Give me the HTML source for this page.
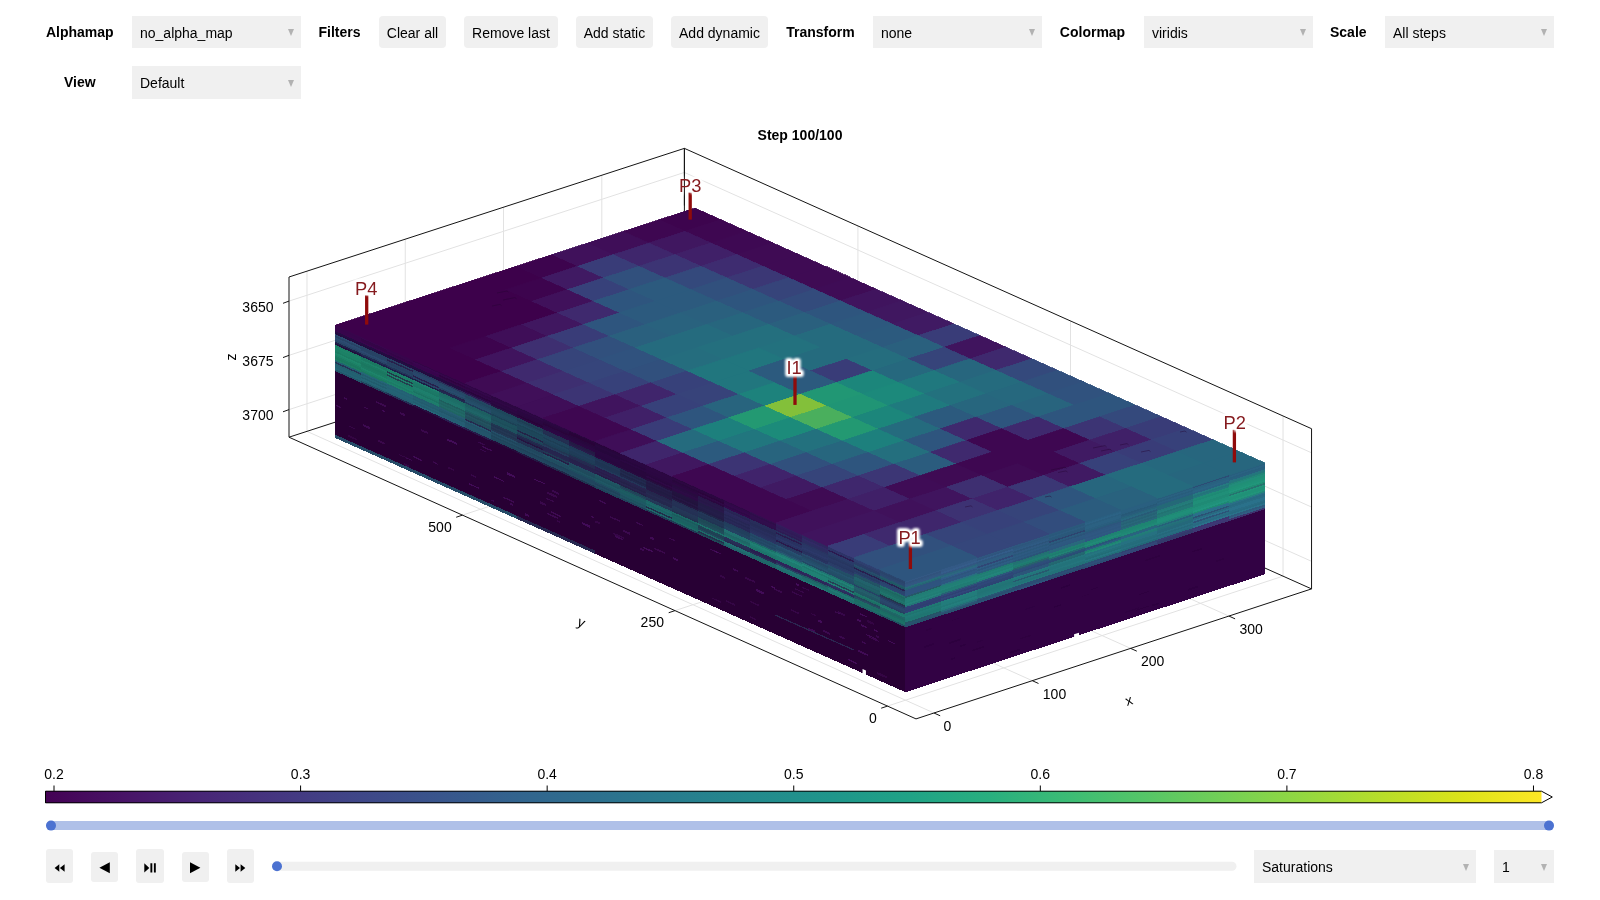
<!DOCTYPE html>
<html><head><meta charset="utf-8"><title>Reservoir plot</title>
<style>
html,body{margin:0;padding:0;background:#fff;}
body{width:1600px;height:900px;position:relative;overflow:hidden;font-family:"Liberation Sans",sans-serif;font-size:14px;color:#000;}
.lb{position:absolute;font-weight:bold;font-size:14px;line-height:16px;white-space:nowrap;transform:translateX(-50%);}
.dd{position:absolute;background:#f0f0f0;font-size:14px;box-sizing:border-box;padding-left:8px;white-space:nowrap;}
.dd i{position:absolute;right:6.8px;top:50%;margin-top:-2.6px;width:0;height:0;border-left:3.6px solid transparent;border-right:3.6px solid transparent;border-top:7.6px solid #b2b2b2;}
.bt{position:absolute;background:#f0f0f0;border-radius:4px;font-size:14px;text-align:center;white-space:nowrap;}
svg{position:absolute;left:0;top:0;will-change:transform;}
svg text{font-family:"Liberation Sans",sans-serif;}
.pb{position:absolute;background:#f0f0f0;border-radius:3px;}
#w{position:absolute;left:0;top:0;width:1600px;height:900px;will-change:transform;}
</style></head><body><div id="w">
<!-- row 1 -->
<div class="lb" style="left:79.8px;top:24px;">Alphamap</div>
<div class="dd" style="left:132px;top:16.3px;width:168.6px;height:31.5px;line-height:34px;">no_alpha_map<i></i></div>
<div class="lb" style="left:339.5px;top:24px;">Filters</div>
<div class="bt" style="left:379px;top:16.3px;width:67px;height:31.5px;line-height:34px;">Clear all</div>
<div class="bt" style="left:464px;top:16.3px;width:94px;height:31.5px;line-height:34px;">Remove last</div>
<div class="bt" style="left:576px;top:16.3px;width:77px;height:31.5px;line-height:34px;">Add static</div>
<div class="bt" style="left:671px;top:16.3px;width:97px;height:31.5px;line-height:34px;">Add dynamic</div>
<div class="lb" style="left:820.5px;top:24px;">Transform</div>
<div class="dd" style="left:873px;top:16.3px;width:168.6px;height:31.5px;line-height:34px;">none<i></i></div>
<div class="lb" style="left:1092.5px;top:24px;">Colormap</div>
<div class="dd" style="left:1144px;top:16.3px;width:168.6px;height:31.5px;line-height:34px;">viridis<i></i></div>
<div class="lb" style="left:1348.3px;top:24px;">Scale</div>
<div class="dd" style="left:1385px;top:16.3px;width:168.6px;height:31.5px;line-height:34px;">All steps<i></i></div>
<!-- row 2 -->
<div class="lb" style="left:79.8px;top:74.3px;">View</div>
<div class="dd" style="left:132px;top:66px;width:168.6px;height:32.5px;line-height:35.4px;">Default<i></i></div>
<!-- title -->
<div class="lb" style="left:800px;top:126.9px;">Step 100/100</div>

<svg width="1600" height="900" viewBox="0 0 1600 900">
<defs><linearGradient id="vg" x1="0" x2="1" y1="0" y2="0"><stop offset="0.0000" stop-color="#440154"/><stop offset="0.0526" stop-color="#481467"/><stop offset="0.1053" stop-color="#482677"/><stop offset="0.1579" stop-color="#453781"/><stop offset="0.2105" stop-color="#3f4788"/><stop offset="0.2632" stop-color="#39558c"/><stop offset="0.3158" stop-color="#32648e"/><stop offset="0.3684" stop-color="#2d708e"/><stop offset="0.4211" stop-color="#287d8e"/><stop offset="0.4737" stop-color="#238a8d"/><stop offset="0.5263" stop-color="#1f968b"/><stop offset="0.5789" stop-color="#20a386"/><stop offset="0.6316" stop-color="#29af7f"/><stop offset="0.6842" stop-color="#3cbc75"/><stop offset="0.7368" stop-color="#56c667"/><stop offset="0.7895" stop-color="#74d055"/><stop offset="0.8421" stop-color="#94d840"/><stop offset="0.8947" stop-color="#b8de29"/><stop offset="0.9474" stop-color="#dce319"/><stop offset="1.0000" stop-color="#fde725"/></linearGradient><filter id="gl" x="-30%" y="-30%" width="160%" height="160%"><feGaussianBlur stdDeviation="1.1"/></filter></defs>
<rect x="45" y="791" width="1496.5" height="12" fill="url(#vg)"/>
<path d="M45.5 791.2 H1541.5 L1552.3 797 L1541.5 802.8 H45.5 Z" fill="none" stroke="#000" stroke-width="1"/>
<line x1="54.00" y1="785.5" x2="54.00" y2="791" stroke="#000" stroke-width="1"/>
<text x="54.00" y="779" text-anchor="middle" font-size="14" fill="#000">0.2</text>
<line x1="300.58" y1="785.5" x2="300.58" y2="791" stroke="#000" stroke-width="1"/>
<text x="300.58" y="779" text-anchor="middle" font-size="14" fill="#000">0.3</text>
<line x1="547.16" y1="785.5" x2="547.16" y2="791" stroke="#000" stroke-width="1"/>
<text x="547.16" y="779" text-anchor="middle" font-size="14" fill="#000">0.4</text>
<line x1="793.74" y1="785.5" x2="793.74" y2="791" stroke="#000" stroke-width="1"/>
<text x="793.74" y="779" text-anchor="middle" font-size="14" fill="#000">0.5</text>
<line x1="1040.32" y1="785.5" x2="1040.32" y2="791" stroke="#000" stroke-width="1"/>
<text x="1040.32" y="779" text-anchor="middle" font-size="14" fill="#000">0.6</text>
<line x1="1286.90" y1="785.5" x2="1286.90" y2="791" stroke="#000" stroke-width="1"/>
<text x="1286.90" y="779" text-anchor="middle" font-size="14" fill="#000">0.7</text>
<line x1="1533.48" y1="785.5" x2="1533.48" y2="791" stroke="#000" stroke-width="1"/>
<text x="1533.48" y="779" text-anchor="middle" font-size="14" fill="#000">0.8</text>
<line x1="933.98" y1="712.99" x2="306.98" y2="431.35" stroke="#e2e2e2" stroke-width="1"/>
<line x1="306.98" y1="431.35" x2="306.98" y2="271.17" stroke="#e2e2e2" stroke-width="1"/>
<line x1="1032.29" y1="680.68" x2="405.25" y2="399.38" stroke="#e2e2e2" stroke-width="1"/>
<line x1="405.25" y1="399.38" x2="405.25" y2="239.19" stroke="#e2e2e2" stroke-width="1"/>
<line x1="1130.61" y1="648.37" x2="503.52" y2="367.40" stroke="#e2e2e2" stroke-width="1"/>
<line x1="503.52" y1="367.40" x2="503.52" y2="207.21" stroke="#e2e2e2" stroke-width="1"/>
<line x1="1228.92" y1="616.06" x2="601.80" y2="335.43" stroke="#e2e2e2" stroke-width="1"/>
<line x1="601.80" y1="335.43" x2="601.80" y2="175.24" stroke="#e2e2e2" stroke-width="1"/>
<line x1="887.50" y1="706.09" x2="1283.04" y2="576.16" stroke="#e2e2e2" stroke-width="1"/>
<line x1="1283.04" y1="576.16" x2="1283.04" y2="415.97" stroke="#e2e2e2" stroke-width="1"/>
<line x1="674.99" y1="610.62" x2="1070.48" y2="481.14" stroke="#e2e2e2" stroke-width="1"/>
<line x1="1070.48" y1="481.14" x2="1070.48" y2="320.95" stroke="#e2e2e2" stroke-width="1"/>
<line x1="462.48" y1="515.14" x2="857.92" y2="386.12" stroke="#e2e2e2" stroke-width="1"/>
<line x1="857.92" y1="386.12" x2="857.92" y2="225.93" stroke="#e2e2e2" stroke-width="1"/>
<line x1="289.00" y1="301.10" x2="684.40" y2="172.45" stroke="#e2e2e2" stroke-width="1"/>
<line x1="684.40" y1="172.45" x2="1311.55" y2="452.80" stroke="#e2e2e2" stroke-width="1"/>
<line x1="289.00" y1="355.35" x2="684.40" y2="226.70" stroke="#e2e2e2" stroke-width="1"/>
<line x1="684.40" y1="226.70" x2="1311.55" y2="507.05" stroke="#e2e2e2" stroke-width="1"/>
<line x1="289.00" y1="409.60" x2="684.40" y2="280.95" stroke="#e2e2e2" stroke-width="1"/>
<line x1="684.40" y1="280.95" x2="1311.55" y2="561.30" stroke="#e2e2e2" stroke-width="1"/>
<line x1="289.00" y1="277.01" x2="684.40" y2="148.36" stroke="#141414" stroke-width="1.0"/>
<line x1="684.40" y1="148.36" x2="1311.55" y2="428.71" stroke="#141414" stroke-width="1.0"/>
<line x1="289.00" y1="277.01" x2="289.00" y2="437.20" stroke="#141414" stroke-width="1.0"/>
<line x1="684.40" y1="148.36" x2="684.40" y2="308.55" stroke="#141414" stroke-width="1.0"/>
<line x1="1311.55" y1="428.71" x2="1311.55" y2="588.90" stroke="#141414" stroke-width="1.0"/>
<line x1="289.00" y1="437.20" x2="916.00" y2="718.90" stroke="#141414" stroke-width="1.0"/>
<line x1="916.00" y1="718.90" x2="1311.55" y2="588.90" stroke="#141414" stroke-width="1.0"/>
<line x1="289.00" y1="437.20" x2="684.40" y2="308.55" stroke="#141414" stroke-width="1.0"/>
<line x1="684.40" y1="308.55" x2="1311.55" y2="588.90" stroke="#141414" stroke-width="1.0"/>
<line x1="933.98" y1="712.99" x2="940.18" y2="715.79" stroke="#141414" stroke-width="1.0"/>
<line x1="1032.29" y1="680.68" x2="1038.49" y2="683.48" stroke="#141414" stroke-width="1.0"/>
<line x1="1130.61" y1="648.37" x2="1136.81" y2="651.17" stroke="#141414" stroke-width="1.0"/>
<line x1="1228.92" y1="616.06" x2="1235.12" y2="618.86" stroke="#141414" stroke-width="1.0"/>
<line x1="887.50" y1="706.09" x2="881.20" y2="708.19" stroke="#141414" stroke-width="1.0"/>
<line x1="674.99" y1="610.62" x2="668.69" y2="612.72" stroke="#141414" stroke-width="1.0"/>
<line x1="462.48" y1="515.14" x2="456.18" y2="517.24" stroke="#141414" stroke-width="1.0"/>
<line x1="289.00" y1="301.10" x2="283.00" y2="303.30" stroke="#141414" stroke-width="1.0"/>
<line x1="289.00" y1="355.35" x2="283.00" y2="357.55" stroke="#141414" stroke-width="1.0"/>
<line x1="289.00" y1="409.60" x2="283.00" y2="411.80" stroke="#141414" stroke-width="1.0"/>
<g shape-rendering="crispEdges"><polygon points="335.48,325.09 905.48,581.12 905.48,692.20 335.48,438.06" fill="#280034"/>
<polygon points="335.48,325.09 361.39,336.73 361.39,338.49 335.48,326.85" fill="#38054c"/>
<polygon points="335.48,326.62 361.39,338.26 361.39,340.02 335.48,328.38" fill="#37054b"/>
<polygon points="335.48,328.15 361.39,339.79 361.39,341.55 335.48,329.91" fill="#38054c"/>
<polygon points="335.48,329.69 361.39,341.32 361.39,343.08 335.48,331.44" fill="#38054c"/>
<polygon points="335.48,331.22 361.39,342.86 361.39,344.61 335.48,332.98" fill="#270b44"/>
<polygon points="335.48,332.75 361.39,344.39 361.39,346.15 335.48,334.51" fill="#250a40"/>
<polygon points="335.48,334.28 361.39,345.92 361.39,347.68 335.48,336.04" fill="#2b4a6f"/>
<polygon points="335.48,335.81 361.39,347.45 361.39,349.21 335.48,337.57" fill="#274365"/>
<polygon points="335.48,337.35 361.39,348.98 361.39,350.74 335.48,339.11" fill="#2c4b71"/>
<polygon points="335.48,338.88 361.39,350.52 361.39,352.28 335.48,340.64" fill="#2a486d"/>
<polygon points="335.48,340.41 361.39,352.05 361.39,353.81 335.48,342.17" fill="#274365"/>
<polygon points="335.48,341.94 361.39,353.58 361.39,355.34 335.48,343.70" fill="#1e2049"/>
<polygon points="335.48,343.47 361.39,355.11 361.39,356.87 335.48,345.23" fill="#220e3d"/>
<polygon points="335.48,345.01 361.39,356.64 361.39,358.40 335.48,346.77" fill="#1c7e64"/>
<polygon points="335.48,346.54 361.39,358.18 361.39,359.94 335.48,348.30" fill="#1d8468"/>
<polygon points="335.48,348.07 361.39,359.71 361.39,361.47 335.48,349.83" fill="#1c8166"/>
<polygon points="335.48,349.60 361.39,361.24 361.39,363.00 335.48,351.36" fill="#1c8166"/>
<polygon points="335.48,351.14 361.39,362.77 361.39,364.53 335.48,352.89" fill="#1b7c62"/>
<polygon points="335.48,352.67 361.39,364.31 361.39,366.06 335.48,354.43" fill="#1e876a"/>
<polygon points="335.48,354.20 361.39,365.84 361.39,367.60 335.48,355.96" fill="#1d8267"/>
<polygon points="335.48,355.73 361.39,367.37 361.39,369.13 335.48,357.49" fill="#1b7b61"/>
<polygon points="335.48,357.26 361.39,368.90 361.39,370.66 335.48,359.02" fill="#1a785f"/>
<polygon points="335.48,358.80 361.39,370.43 361.39,372.19 335.48,360.55" fill="#1c7d63"/>
<polygon points="335.48,360.33 361.39,371.97 361.39,373.72 335.48,362.09" fill="#226071"/>
<polygon points="335.48,361.86 361.39,373.50 361.39,375.26 335.48,363.62" fill="#263356"/>
<polygon points="335.48,363.39 361.39,375.03 361.39,376.79 335.48,365.15" fill="#225e6e"/>
<polygon points="335.48,364.92 361.39,376.56 361.39,378.32 335.48,366.68" fill="#236172"/>
<polygon points="335.48,366.46 361.39,378.09 361.39,379.85 335.48,368.22" fill="#226071"/>
<polygon points="335.48,367.99 361.39,379.63 361.39,381.39 335.48,369.75" fill="#236374"/>
<polygon points="335.48,369.52 361.39,381.16 361.39,382.92 335.48,371.28" fill="#22556a"/>
<polygon points="335.48,434.80 361.39,446.36 361.39,449.61 335.48,438.06" fill="#264c68"/>
<polygon points="361.39,336.73 387.30,348.36 387.30,350.12 361.39,338.49" fill="#39054e"/>
<polygon points="361.39,338.26 387.30,349.90 387.30,351.66 361.39,340.02" fill="#340547"/>
<polygon points="361.39,339.79 387.30,351.43 387.30,353.19 361.39,341.55" fill="#340547"/>
<polygon points="361.39,341.32 387.30,352.96 387.30,354.72 361.39,343.08" fill="#38054d"/>
<polygon points="361.39,342.86 387.30,354.49 387.30,356.25 361.39,344.61" fill="#250b42"/>
<polygon points="361.39,344.39 387.30,356.03 387.30,357.78 361.39,346.15" fill="#230a3f"/>
<polygon points="361.39,345.92 387.30,357.56 387.30,359.32 361.39,347.68" fill="#274264"/>
<polygon points="361.39,347.45 387.30,359.09 387.30,360.85 361.39,349.21" fill="#274264"/>
<polygon points="361.39,348.98 387.30,360.62 387.30,362.38 361.39,350.74" fill="#274365"/>
<polygon points="361.39,350.52 387.30,362.15 387.30,363.91 361.39,352.28" fill="#2b496f"/>
<polygon points="361.39,352.05 387.30,363.69 387.30,365.44 361.39,353.81" fill="#284466"/>
<polygon points="361.39,353.58 387.30,365.22 387.30,366.98 361.39,355.34" fill="#212c53"/>
<polygon points="361.39,355.11 387.30,366.75 387.30,368.51 361.39,356.87" fill="#1f1d4a"/>
<polygon points="361.39,356.64 387.30,368.28 387.30,370.04 361.39,358.40" fill="#1a7760"/>
<polygon points="361.39,358.18 387.30,369.81 387.30,371.57 361.39,359.94" fill="#1b7861"/>
<polygon points="361.39,359.71 387.30,371.35 387.30,373.11 361.39,361.47" fill="#1d8168"/>
<polygon points="361.39,361.24 387.30,372.88 387.30,374.64 361.39,363.00" fill="#1b7a62"/>
<polygon points="361.39,362.77 387.30,374.41 387.30,376.17 361.39,364.53" fill="#1a7760"/>
<polygon points="361.39,364.31 387.30,375.94 387.30,377.70 361.39,366.06" fill="#1b7961"/>
<polygon points="361.39,365.84 387.30,377.48 387.30,379.23 361.39,367.60" fill="#1b7b63"/>
<polygon points="361.39,367.37 387.30,379.01 387.30,380.77 361.39,369.13" fill="#1d846a"/>
<polygon points="361.39,368.90 387.30,380.54 387.30,382.30 361.39,370.66" fill="#1c7e65"/>
<polygon points="361.39,370.43 387.30,382.07 387.30,383.83 361.39,372.19" fill="#1b7861"/>
<polygon points="361.39,371.97 387.30,383.60 387.30,385.36 361.39,373.72" fill="#246577"/>
<polygon points="361.39,373.50 387.30,385.14 387.30,386.89 361.39,375.26" fill="#225d6e"/>
<polygon points="361.39,375.03 387.30,386.67 387.30,388.43 361.39,376.79" fill="#246374"/>
<polygon points="361.39,376.56 387.30,388.20 387.30,389.96 361.39,378.32" fill="#215c6d"/>
<polygon points="361.39,378.09 387.30,389.73 387.30,391.49 361.39,379.85" fill="#246476"/>
<polygon points="361.39,379.63 387.30,391.26 387.30,393.02 361.39,381.39" fill="#225f70"/>
<polygon points="361.39,381.16 387.30,392.80 387.30,394.56 361.39,382.92" fill="#223f5c"/>
<polygon points="361.39,446.36 387.30,457.91 387.30,461.16 361.39,449.61" fill="#264c68"/>
<polygon points="387.30,348.36 413.20,360.00 413.20,361.76 387.30,350.12" fill="#37054b"/>
<polygon points="387.30,349.90 413.20,361.53 413.20,363.29 387.30,351.66" fill="#38054c"/>
<polygon points="387.30,351.43 413.20,363.07 413.20,364.83 387.30,353.19" fill="#340547"/>
<polygon points="387.30,352.96 413.20,364.60 413.20,366.36 387.30,354.72" fill="#37054b"/>
<polygon points="387.30,354.49 413.20,366.13 413.20,367.89 387.30,356.25" fill="#230b3f"/>
<polygon points="387.30,356.03 413.20,367.66 413.20,369.42 387.30,357.78" fill="#250c43"/>
<polygon points="387.30,357.56 413.20,369.20 413.20,370.95 387.30,359.32" fill="#274264"/>
<polygon points="387.30,359.09 413.20,370.73 413.20,372.49 387.30,360.85" fill="#27214c"/>
<polygon points="387.30,360.62 413.20,372.26 413.20,374.02 387.30,362.38" fill="#274264"/>
<polygon points="387.30,362.15 413.20,373.79 413.20,375.55 387.30,363.91" fill="#264062"/>
<polygon points="387.30,363.69 413.20,375.32 413.20,377.08 387.30,365.44" fill="#274365"/>
<polygon points="387.30,365.22 413.20,376.86 413.20,378.61 387.30,366.98" fill="#23375a"/>
<polygon points="387.30,366.75 413.20,378.39 413.20,380.15 387.30,368.51" fill="#1f1d4a"/>
<polygon points="387.30,368.28 413.20,379.92 413.20,381.68 387.30,370.04" fill="#1c7d67"/>
<polygon points="387.30,369.81 413.20,381.45 413.20,383.21 387.30,371.57" fill="#1c7c66"/>
<polygon points="387.30,371.35 413.20,382.98 413.20,384.74 387.30,373.11" fill="#213a4a"/>
<polygon points="387.30,372.88 413.20,384.52 413.20,386.28 387.30,374.64" fill="#1d816a"/>
<polygon points="387.30,374.41 413.20,386.05 413.20,387.81 387.30,376.17" fill="#22414f"/>
<polygon points="387.30,375.94 413.20,387.58 413.20,389.34 387.30,377.70" fill="#1c7d67"/>
<polygon points="387.30,377.48 413.20,389.11 413.20,390.87 387.30,379.23" fill="#1c7e68"/>
<polygon points="387.30,379.01 413.20,390.64 413.20,392.40 387.30,380.77" fill="#1d826b"/>
<polygon points="387.30,380.54 413.20,392.18 413.20,393.94 387.30,382.30" fill="#1c7b66"/>
<polygon points="387.30,382.07 413.20,393.71 413.20,395.47 387.30,383.83" fill="#1d816a"/>
<polygon points="387.30,383.60 413.20,395.24 413.20,397.00 387.30,385.36" fill="#236173"/>
<polygon points="387.30,385.14 413.20,396.77 413.20,398.53 387.30,386.89" fill="#246376"/>
<polygon points="387.30,386.67 413.20,398.31 413.20,400.06 387.30,388.43" fill="#236173"/>
<polygon points="387.30,388.20 413.20,399.84 413.20,401.60 387.30,389.96" fill="#246375"/>
<polygon points="387.30,389.73 413.20,401.37 413.20,403.13 387.30,391.49" fill="#246274"/>
<polygon points="387.30,391.26 413.20,402.90 413.20,404.66 387.30,393.02" fill="#235f71"/>
<polygon points="387.30,392.80 413.20,404.43 413.20,406.19 387.30,394.56" fill="#242d54"/>
<polygon points="387.30,457.91 413.20,469.46 413.20,472.72 387.30,461.16" fill="#264c68"/>
<polygon points="413.20,360.00 439.11,371.64 439.11,373.40 413.20,361.76" fill="#330546"/>
<polygon points="413.20,361.53 439.11,373.17 439.11,374.93 413.20,363.29" fill="#39054f"/>
<polygon points="413.20,363.07 439.11,374.70 439.11,376.46 413.20,364.83" fill="#37054c"/>
<polygon points="413.20,364.60 439.11,376.24 439.11,378.00 413.20,366.36" fill="#37054c"/>
<polygon points="413.20,366.13 439.11,377.77 439.11,379.53 413.20,367.89" fill="#240c42"/>
<polygon points="413.20,367.66 439.11,379.30 439.11,381.06 413.20,369.42" fill="#230b3f"/>
<polygon points="413.20,369.20 439.11,380.83 439.11,382.59 413.20,370.95" fill="#263e61"/>
<polygon points="413.20,370.73 439.11,382.37 439.11,384.12 413.20,372.49" fill="#284568"/>
<polygon points="413.20,372.26 439.11,383.90 439.11,385.66 413.20,374.02" fill="#29476b"/>
<polygon points="413.20,373.79 439.11,385.43 439.11,387.19 413.20,375.55" fill="#28466a"/>
<polygon points="413.20,375.32 439.11,386.96 439.11,388.72 413.20,377.08" fill="#27214d"/>
<polygon points="413.20,376.86 439.11,388.49 439.11,390.25 413.20,378.61" fill="#274366"/>
<polygon points="413.20,378.39 439.11,390.03 439.11,391.78 413.20,380.15" fill="#1d1e47"/>
<polygon points="413.20,379.92 439.11,391.56 439.11,393.32 413.20,381.68" fill="#1e806d"/>
<polygon points="413.20,381.45 439.11,393.09 439.11,394.85 413.20,383.21" fill="#1c7968"/>
<polygon points="413.20,382.98 439.11,394.62 439.11,396.38 413.20,384.74" fill="#1c7866"/>
<polygon points="413.20,384.52 439.11,396.15 439.11,397.91 413.20,386.28" fill="#1b7665"/>
<polygon points="413.20,386.05 439.11,397.69 439.11,399.45 413.20,387.81" fill="#1d7f6c"/>
<polygon points="413.20,387.58 439.11,399.22 439.11,400.98 413.20,389.34" fill="#1e7e6c"/>
<polygon points="413.20,389.11 439.11,400.75 439.11,402.51 413.20,390.87" fill="#1d7a68"/>
<polygon points="413.20,390.64 439.11,402.28 439.11,404.04 413.20,392.40" fill="#1b7363"/>
<polygon points="413.20,392.18 439.11,403.81 439.11,405.57 413.20,393.94" fill="#1e7d6c"/>
<polygon points="413.20,393.71 439.11,405.35 439.11,407.11 413.20,395.47" fill="#1d7c6a"/>
<polygon points="413.20,395.24 439.11,406.88 439.11,408.64 413.20,397.00" fill="#225d6f"/>
<polygon points="413.20,396.77 439.11,408.41 439.11,410.17 413.20,398.53" fill="#235f71"/>
<polygon points="413.20,398.31 439.11,409.94 439.11,411.70 413.20,400.06" fill="#225c6e"/>
<polygon points="413.20,399.84 439.11,411.48 439.11,413.23 413.20,401.60" fill="#246174"/>
<polygon points="413.20,401.37 439.11,413.01 439.11,414.77 413.20,403.13" fill="#225d6f"/>
<polygon points="413.20,402.90 439.11,414.54 439.11,416.30 413.20,404.66" fill="#256578"/>
<polygon points="413.20,404.43 439.11,416.07 439.11,417.83 413.20,406.19" fill="#260e3f"/>
<polygon points="413.20,469.46 439.11,481.01 439.11,484.27 413.20,472.72" fill="#264c68"/>
<polygon points="439.11,371.64 465.02,383.28 465.02,385.04 439.11,373.40" fill="#310545"/>
<polygon points="439.11,373.17 465.02,384.81 465.02,386.57 439.11,374.93" fill="#35064a"/>
<polygon points="439.11,374.70 465.02,386.34 465.02,388.10 439.11,376.46" fill="#2f0340"/>
<polygon points="439.11,376.24 465.02,387.87 465.02,389.63 439.11,378.00" fill="#320646"/>
<polygon points="439.11,377.77 465.02,389.41 465.02,391.17 439.11,379.53" fill="#250a40"/>
<polygon points="439.11,379.30 465.02,390.94 465.02,392.70 439.11,381.06" fill="#260a42"/>
<polygon points="439.11,380.83 465.02,392.47 465.02,394.23 439.11,382.59" fill="#282f59"/>
<polygon points="439.11,382.37 465.02,394.00 465.02,395.76 439.11,384.12" fill="#264867"/>
<polygon points="439.11,383.90 465.02,395.53 465.02,397.29 439.11,385.66" fill="#264969"/>
<polygon points="439.11,385.43 465.02,397.07 465.02,398.83 439.11,387.19" fill="#284c6d"/>
<polygon points="439.11,386.96 465.02,398.60 465.02,400.36 439.11,388.72" fill="#244664"/>
<polygon points="439.11,388.49 465.02,400.13 465.02,401.89 439.11,390.25" fill="#26234c"/>
<polygon points="439.11,390.03 465.02,401.66 465.02,403.42 439.11,391.78" fill="#1f2c51"/>
<polygon points="439.11,391.56 465.02,403.20 465.02,404.95 439.11,393.32" fill="#1c6b64"/>
<polygon points="439.11,393.09 465.02,404.73 465.02,406.49 439.11,394.85" fill="#1d6d66"/>
<polygon points="439.11,394.62 465.02,406.26 465.02,408.02 439.11,396.38" fill="#1d6f68"/>
<polygon points="439.11,396.15 465.02,407.79 465.02,409.55 439.11,397.91" fill="#1e736b"/>
<polygon points="439.11,397.69 465.02,409.32 465.02,411.08 439.11,399.45" fill="#1e736b"/>
<polygon points="439.11,399.22 465.02,410.86 465.02,412.62 439.11,400.98" fill="#1e5f5e"/>
<polygon points="439.11,400.75 465.02,412.39 465.02,414.15 439.11,402.51" fill="#206765"/>
<polygon points="439.11,402.28 465.02,413.92 465.02,415.68 439.11,404.04" fill="#1f6462"/>
<polygon points="439.11,403.81 465.02,415.45 465.02,417.21 439.11,405.57" fill="#216967"/>
<polygon points="439.11,405.35 465.02,416.98 465.02,418.74 439.11,407.11" fill="#1f6563"/>
<polygon points="439.11,406.88 465.02,418.52 465.02,420.28 439.11,408.64" fill="#255d73"/>
<polygon points="439.11,408.41 465.02,420.05 465.02,421.81 439.11,410.17" fill="#235a6e"/>
<polygon points="439.11,409.94 465.02,421.58 465.02,423.34 439.11,411.70" fill="#22576b"/>
<polygon points="439.11,411.48 465.02,423.11 465.02,424.87 439.11,413.23" fill="#255d73"/>
<polygon points="439.11,413.01 465.02,424.65 465.02,426.40 439.11,414.77" fill="#245c72"/>
<polygon points="439.11,414.54 465.02,426.18 465.02,427.94 439.11,416.30" fill="#255e74"/>
<polygon points="439.11,416.07 465.02,427.71 465.02,429.47 439.11,417.83" fill="#281c4f"/>
<polygon points="439.11,481.01 465.02,492.56 465.02,495.82 439.11,484.27" fill="#264c68"/>
<polygon points="465.02,383.28 490.93,394.92 490.93,396.67 465.02,385.04" fill="#300645"/>
<polygon points="465.02,384.81 490.93,396.45 490.93,398.21 465.02,386.57" fill="#33074a"/>
<polygon points="465.02,386.34 490.93,397.98 490.93,399.74 465.02,388.10" fill="#2f0643"/>
<polygon points="465.02,387.87 490.93,399.51 490.93,401.27 465.02,389.63" fill="#310647"/>
<polygon points="465.02,389.41 490.93,401.04 490.93,402.80 465.02,391.17" fill="#29053c"/>
<polygon points="465.02,390.94 490.93,402.58 490.93,404.34 465.02,392.70" fill="#2b0a46"/>
<polygon points="465.02,392.47 490.93,404.11 490.93,405.87 465.02,394.23" fill="#2d2256"/>
<polygon points="465.02,394.00 490.93,405.64 490.93,407.40 465.02,395.76" fill="#224862"/>
<polygon points="465.02,395.53 490.93,407.17 490.93,408.93 465.02,397.29" fill="#214660"/>
<polygon points="465.02,397.07 490.93,408.70 490.93,410.46 465.02,398.83" fill="#234a64"/>
<polygon points="465.02,398.60 490.93,410.24 490.93,412.00 465.02,400.36" fill="#244d68"/>
<polygon points="465.02,400.13 490.93,411.77 490.93,413.53 465.02,401.89" fill="#254e6a"/>
<polygon points="465.02,401.66 490.93,413.30 490.93,415.06 465.02,403.42" fill="#203c5b"/>
<polygon points="465.02,403.20 490.93,414.83 490.93,416.59 465.02,404.95" fill="#1d5e61"/>
<polygon points="465.02,404.73 490.93,416.37 490.93,418.12 465.02,406.49" fill="#1d5f62"/>
<polygon points="465.02,406.26 490.93,417.90 490.93,419.66 465.02,408.02" fill="#1e6366"/>
<polygon points="465.02,407.79 490.93,419.43 490.93,421.19 465.02,409.55" fill="#1f6568"/>
<polygon points="465.02,409.32 490.93,420.96 490.93,422.72 465.02,411.08" fill="#1d5f62"/>
<polygon points="465.02,410.86 490.93,422.49 490.93,424.25 465.02,412.62" fill="#22515f"/>
<polygon points="465.02,412.39 490.93,424.03 490.93,425.79 465.02,414.15" fill="#204b58"/>
<polygon points="465.02,413.92 490.93,425.56 490.93,427.32 465.02,415.68" fill="#235260"/>
<polygon points="465.02,415.45 490.93,427.09 490.93,428.85 465.02,417.21" fill="#214e5c"/>
<polygon points="465.02,416.98 490.93,428.62 490.93,430.38 465.02,418.74" fill="#214e5c"/>
<polygon points="465.02,418.52 490.93,430.15 490.93,431.91 465.02,420.28" fill="#252a4f"/>
<polygon points="465.02,420.05 490.93,431.69 490.93,433.45 465.02,421.81" fill="#24576f"/>
<polygon points="465.02,421.58 490.93,433.22 490.93,434.98 465.02,423.34" fill="#225168"/>
<polygon points="465.02,423.11 490.93,434.75 490.93,436.51 465.02,424.87" fill="#23536a"/>
<polygon points="465.02,424.65 490.93,436.28 490.93,438.04 465.02,426.40" fill="#23546b"/>
<polygon points="465.02,426.18 490.93,437.82 490.93,439.57 465.02,427.94" fill="#235369"/>
<polygon points="465.02,427.71 490.93,439.35 490.93,441.11 465.02,429.47" fill="#271849"/>
<polygon points="465.02,492.56 490.93,504.12 490.93,507.37 465.02,495.82" fill="#264c68"/>
<polygon points="490.93,394.92 516.84,406.55 516.84,408.31 490.93,396.67" fill="#2d0742"/>
<polygon points="490.93,396.45 516.84,408.09 516.84,409.84 490.93,398.21" fill="#2c0742"/>
<polygon points="490.93,397.98 516.84,409.62 516.84,411.38 490.93,399.74" fill="#2f0745"/>
<polygon points="490.93,399.51 516.84,411.15 516.84,412.91 490.93,401.27" fill="#2c0641"/>
<polygon points="490.93,401.04 516.84,412.68 516.84,414.44 490.93,402.80" fill="#2b0842"/>
<polygon points="490.93,402.58 516.84,414.21 516.84,415.97 490.93,404.34" fill="#28073e"/>
<polygon points="490.93,404.11 516.84,415.75 516.84,417.51 490.93,405.87" fill="#280f42"/>
<polygon points="490.93,405.64 516.84,417.28 516.84,419.04 490.93,407.40" fill="#1e465b"/>
<polygon points="490.93,407.17 516.84,418.81 516.84,420.57 490.93,408.93" fill="#1e475c"/>
<polygon points="490.93,408.70 516.84,420.34 516.84,422.10 490.93,410.46" fill="#1f4a5f"/>
<polygon points="490.93,410.24 516.84,421.87 516.84,423.63 490.93,412.00" fill="#204b60"/>
<polygon points="490.93,411.77 516.84,423.41 516.84,425.17 490.93,413.53" fill="#1f495e"/>
<polygon points="490.93,413.30 516.84,424.94 516.84,426.70 490.93,415.06" fill="#1c4156"/>
<polygon points="490.93,414.83 516.84,426.47 516.84,428.23 490.93,416.59" fill="#1d505d"/>
<polygon points="490.93,416.37 516.84,428.00 516.84,429.76 490.93,418.12" fill="#1d505d"/>
<polygon points="490.93,417.90 516.84,429.54 516.84,431.29 490.93,419.66" fill="#1c4d5a"/>
<polygon points="490.93,419.43 516.84,431.07 516.84,432.83 490.93,421.19" fill="#1e525f"/>
<polygon points="490.93,420.96 516.84,432.60 516.84,434.36 490.93,422.72" fill="#1d515e"/>
<polygon points="490.93,422.49 516.84,434.13 516.84,435.89 490.93,424.25" fill="#223652"/>
<polygon points="490.93,424.03 516.84,435.66 516.84,437.42 490.93,425.79" fill="#20334f"/>
<polygon points="490.93,425.56 516.84,437.20 516.84,438.96 490.93,427.32" fill="#233754"/>
<polygon points="490.93,427.09 516.84,438.73 516.84,440.49 490.93,428.85" fill="#21344f"/>
<polygon points="490.93,428.62 516.84,440.26 516.84,442.02 490.93,430.38" fill="#233855"/>
<polygon points="490.93,430.15 516.84,441.79 516.84,443.55 490.93,431.91" fill="#234d66"/>
<polygon points="490.93,431.69 516.84,443.32 516.84,445.08 490.93,433.45" fill="#1f455c"/>
<polygon points="490.93,433.22 516.84,444.86 516.84,446.62 490.93,434.98" fill="#224b63"/>
<polygon points="490.93,434.75 516.84,446.39 516.84,448.15 490.93,436.51" fill="#1f455b"/>
<polygon points="490.93,436.28 516.84,447.92 516.84,449.68 490.93,438.04" fill="#20485f"/>
<polygon points="490.93,437.82 516.84,449.45 516.84,451.21 490.93,439.57" fill="#1f455c"/>
<polygon points="490.93,439.35 516.84,450.99 516.84,452.74 490.93,441.11" fill="#26093a"/>
<polygon points="490.93,504.12 516.84,515.67 516.84,518.92 490.93,507.37" fill="#264c68"/>
<polygon points="516.84,406.55 542.75,418.19 542.75,419.95 516.84,408.31" fill="#2b0741"/>
<polygon points="516.84,408.09 542.75,419.72 542.75,421.48 516.84,409.84" fill="#2d0744"/>
<polygon points="516.84,409.62 542.75,421.26 542.75,423.01 516.84,411.38" fill="#2a0740"/>
<polygon points="516.84,411.15 542.75,422.79 542.75,424.55 516.84,412.91" fill="#2a0740"/>
<polygon points="516.84,412.68 542.75,424.32 542.75,426.08 516.84,414.44" fill="#29073e"/>
<polygon points="516.84,414.21 542.75,425.85 542.75,427.61 516.84,415.97" fill="#280338"/>
<polygon points="516.84,415.75 542.75,427.38 542.75,429.14 516.84,417.51" fill="#2b0740"/>
<polygon points="516.84,417.28 542.75,428.92 542.75,430.68 516.84,419.04" fill="#1f4158"/>
<polygon points="516.84,418.81 542.75,430.45 542.75,432.21 516.84,420.57" fill="#1d3e54"/>
<polygon points="516.84,420.34 542.75,431.98 542.75,433.74 516.84,422.10" fill="#20435b"/>
<polygon points="516.84,421.87 542.75,433.51 542.75,435.27 516.84,423.63" fill="#1f4a5f"/>
<polygon points="516.84,423.41 542.75,435.04 542.75,436.80 516.84,425.17" fill="#1c4356"/>
<polygon points="516.84,424.94 542.75,436.58 542.75,438.34 516.84,426.70" fill="#1d465a"/>
<polygon points="516.84,426.47 542.75,438.11 542.75,439.87 516.84,428.23" fill="#1d4559"/>
<polygon points="516.84,428.00 542.75,439.64 542.75,441.40 516.84,429.76" fill="#1d475b"/>
<polygon points="516.84,429.54 542.75,441.17 542.75,442.93 516.84,431.29" fill="#232448"/>
<polygon points="516.84,431.07 542.75,442.71 542.75,444.46 516.84,432.83" fill="#1f455b"/>
<polygon points="516.84,432.60 542.75,444.24 542.75,446.00 516.84,434.36" fill="#1d4156"/>
<polygon points="516.84,434.13 542.75,445.77 542.75,447.53 516.84,435.89" fill="#24294f"/>
<polygon points="516.84,435.66 542.75,447.30 542.75,449.06 516.84,437.42" fill="#21264a"/>
<polygon points="516.84,437.20 542.75,448.83 542.75,450.59 516.84,438.96" fill="#251440"/>
<polygon points="516.84,438.73 542.75,450.37 542.75,452.13 516.84,440.49" fill="#233153"/>
<polygon points="516.84,440.26 542.75,451.90 542.75,453.66 516.84,442.02" fill="#223051"/>
<polygon points="516.84,441.79 542.75,453.43 542.75,455.19 516.84,443.55" fill="#20475f"/>
<polygon points="516.84,443.32 542.75,454.96 542.75,456.72 516.84,445.08" fill="#20475e"/>
<polygon points="516.84,444.86 542.75,456.49 542.75,458.25 516.84,446.62" fill="#224a62"/>
<polygon points="516.84,446.39 542.75,458.03 542.75,459.79 516.84,448.15" fill="#1f425a"/>
<polygon points="516.84,447.92 542.75,459.56 542.75,461.32 516.84,449.68" fill="#21465f"/>
<polygon points="516.84,449.45 542.75,461.09 542.75,462.85 516.84,451.21" fill="#214760"/>
<polygon points="516.84,450.99 542.75,462.62 542.75,464.38 516.84,452.74" fill="#231843"/>
<polygon points="516.84,515.67 542.75,527.22 542.75,530.47 516.84,518.92" fill="#262850"/>
<polygon points="542.75,418.19 568.66,429.83 568.66,431.59 542.75,419.95" fill="#2c0743"/>
<polygon points="542.75,419.72 568.66,431.36 568.66,433.12 542.75,421.48" fill="#2a0740"/>
<polygon points="542.75,421.26 568.66,432.89 568.66,434.65 542.75,423.01" fill="#28073d"/>
<polygon points="542.75,422.79 568.66,434.43 568.66,436.18 542.75,424.55" fill="#29043a"/>
<polygon points="542.75,424.32 568.66,435.96 568.66,437.72 542.75,426.08" fill="#2a0740"/>
<polygon points="542.75,425.85 568.66,437.49 568.66,439.25 542.75,427.61" fill="#2b0742"/>
<polygon points="542.75,427.38 568.66,439.02 568.66,440.78 542.75,429.14" fill="#2d0744"/>
<polygon points="542.75,428.92 568.66,440.55 568.66,442.31 542.75,430.68" fill="#222e50"/>
<polygon points="542.75,430.45 568.66,442.09 568.66,443.85 542.75,432.21" fill="#232f52"/>
<polygon points="542.75,431.98 568.66,443.62 568.66,445.38 542.75,433.74" fill="#222e50"/>
<polygon points="542.75,433.51 568.66,445.15 568.66,446.91 542.75,435.27" fill="#1f435c"/>
<polygon points="542.75,435.04 568.66,446.68 568.66,448.44 542.75,436.80" fill="#1f445d"/>
<polygon points="542.75,436.58 568.66,448.21 568.66,449.97 542.75,438.34" fill="#1d3e55"/>
<polygon points="542.75,438.11 568.66,449.75 568.66,451.51 542.75,439.87" fill="#1f445d"/>
<polygon points="542.75,439.64 568.66,451.28 568.66,453.04 542.75,441.40" fill="#1e415a"/>
<polygon points="542.75,441.17 568.66,452.81 568.66,454.57 542.75,442.93" fill="#1d4057"/>
<polygon points="542.75,442.71 568.66,454.34 568.66,456.10 542.75,444.46" fill="#213652"/>
<polygon points="542.75,444.24 568.66,455.88 568.66,457.63 542.75,446.00" fill="#243b5b"/>
<polygon points="542.75,445.77 568.66,457.41 568.66,459.17 542.75,447.53" fill="#25254e"/>
<polygon points="542.75,447.30 568.66,458.94 568.66,460.70 542.75,449.06" fill="#26254e"/>
<polygon points="542.75,448.83 568.66,460.47 568.66,462.23 542.75,450.59" fill="#26264f"/>
<polygon points="542.75,450.37 568.66,462.00 568.66,463.76 542.75,452.13" fill="#203953"/>
<polygon points="542.75,451.90 568.66,463.54 568.66,465.29 542.75,453.66" fill="#251f47"/>
<polygon points="542.75,453.43 568.66,465.07 568.66,466.83 542.75,455.19" fill="#225166"/>
<polygon points="542.75,454.96 568.66,466.60 568.66,468.36 542.75,456.72" fill="#204c60"/>
<polygon points="542.75,456.49 568.66,468.13 568.66,469.89 542.75,458.25" fill="#204d61"/>
<polygon points="542.75,458.03 568.66,469.66 568.66,471.42 542.75,459.79" fill="#1f425a"/>
<polygon points="542.75,459.56 568.66,471.20 568.66,472.96 542.75,461.32" fill="#20455e"/>
<polygon points="542.75,461.09 568.66,472.73 568.66,474.49 542.75,462.85" fill="#214760"/>
<polygon points="542.75,462.62 568.66,474.26 568.66,476.02 542.75,464.38" fill="#212649"/>
<polygon points="542.75,527.22 568.66,538.77 568.66,542.03 542.75,530.47" fill="#262850"/>
<polygon points="568.66,429.83 594.57,441.47 594.57,443.23 568.66,431.59" fill="#28073d"/>
<polygon points="568.66,431.36 594.57,443.00 594.57,444.76 568.66,433.12" fill="#280339"/>
<polygon points="568.66,432.89 594.57,444.53 594.57,446.29 568.66,434.65" fill="#280338"/>
<polygon points="568.66,434.43 594.57,446.06 594.57,447.82 568.66,436.18" fill="#27073c"/>
<polygon points="568.66,435.96 594.57,447.60 594.57,449.35 568.66,437.72" fill="#28073e"/>
<polygon points="568.66,437.49 594.57,449.13 594.57,450.89 568.66,439.25" fill="#2a0741"/>
<polygon points="568.66,439.02 594.57,450.66 594.57,452.42 568.66,440.78" fill="#2b0742"/>
<polygon points="568.66,440.55 594.57,452.19 594.57,453.95 568.66,442.31" fill="#231943"/>
<polygon points="568.66,442.09 594.57,453.72 594.57,455.48 568.66,443.85" fill="#241a46"/>
<polygon points="568.66,443.62 594.57,455.26 594.57,457.02 568.66,445.38" fill="#271c4b"/>
<polygon points="568.66,445.15 594.57,456.79 594.57,458.55 568.66,446.91" fill="#1e3b57"/>
<polygon points="568.66,446.68 594.57,458.32 594.57,460.08 568.66,448.44" fill="#1f3c59"/>
<polygon points="568.66,448.21 594.57,459.85 594.57,461.61 568.66,449.97" fill="#203e5c"/>
<polygon points="568.66,449.75 594.57,461.38 594.57,463.14 568.66,451.51" fill="#1f3c58"/>
<polygon points="568.66,451.28 594.57,462.92 594.57,464.68 568.66,453.04" fill="#1f3c58"/>
<polygon points="568.66,452.81 594.57,464.45 594.57,466.21 568.66,454.57" fill="#1d3953"/>
<polygon points="568.66,454.34 594.57,465.98 594.57,467.74 568.66,456.10" fill="#252b50"/>
<polygon points="568.66,455.88 594.57,467.51 594.57,469.27 568.66,457.63" fill="#242a4f"/>
<polygon points="568.66,457.41 594.57,469.05 594.57,470.80 568.66,459.17" fill="#26214b"/>
<polygon points="568.66,458.94 594.57,470.58 594.57,472.34 568.66,460.70" fill="#26214c"/>
<polygon points="568.66,460.47 594.57,472.11 594.57,473.87 568.66,462.23" fill="#27224e"/>
<polygon points="568.66,462.00 594.57,473.64 594.57,475.40 568.66,463.76" fill="#214c61"/>
<polygon points="568.66,463.54 594.57,475.17 594.57,476.93 568.66,465.29" fill="#204a5e"/>
<polygon points="568.66,465.07 594.57,476.71 594.57,478.46 568.66,466.83" fill="#1e4c5c"/>
<polygon points="568.66,466.60 594.57,478.24 594.57,480.00 568.66,468.36" fill="#205263"/>
<polygon points="568.66,468.13 594.57,479.77 594.57,481.53 568.66,469.89" fill="#1e4e5f"/>
<polygon points="568.66,469.66 594.57,481.30 594.57,483.06 568.66,471.42" fill="#20465f"/>
<polygon points="568.66,471.20 594.57,482.83 594.57,484.59 568.66,472.96" fill="#20465e"/>
<polygon points="568.66,472.73 594.57,484.37 594.57,486.13 568.66,474.49" fill="#21475f"/>
<polygon points="568.66,474.26 594.57,485.90 594.57,487.66 568.66,476.02" fill="#1f3450"/>
<polygon points="568.66,538.77 594.57,550.32 594.57,553.58 568.66,542.03" fill="#262850"/>
<polygon points="594.57,441.47 620.48,453.10 620.48,454.86 594.57,443.23" fill="#29043b"/>
<polygon points="594.57,443.00 620.48,454.64 620.48,456.40 594.57,444.76" fill="#26073c"/>
<polygon points="594.57,444.53 620.48,456.17 620.48,457.93 594.57,446.29" fill="#28073e"/>
<polygon points="594.57,446.06 620.48,457.70 620.48,459.46 594.57,447.82" fill="#26073c"/>
<polygon points="594.57,447.60 620.48,459.23 620.48,460.99 594.57,449.35" fill="#26073c"/>
<polygon points="594.57,449.13 620.48,460.77 620.48,462.52 594.57,450.89" fill="#290740"/>
<polygon points="594.57,450.66 620.48,462.30 620.48,464.06 594.57,452.42" fill="#290740"/>
<polygon points="594.57,452.19 620.48,463.83 620.48,465.59 594.57,453.95" fill="#28073f"/>
<polygon points="594.57,453.72 620.48,465.36 620.48,467.12 594.57,455.48" fill="#27073e"/>
<polygon points="594.57,455.26 620.48,466.89 620.48,468.65 594.57,457.02" fill="#2a0841"/>
<polygon points="594.57,456.79 620.48,468.43 620.48,470.18 594.57,458.55" fill="#1d3352"/>
<polygon points="594.57,458.32 620.48,469.96 620.48,471.72 594.57,460.08" fill="#1f3657"/>
<polygon points="594.57,459.85 620.48,471.49 620.48,473.25 594.57,461.61" fill="#1e3452"/>
<polygon points="594.57,461.38 620.48,473.02 620.48,474.78 594.57,463.14" fill="#1e3453"/>
<polygon points="594.57,462.92 620.48,474.55 620.48,476.31 594.57,464.68" fill="#1e3554"/>
<polygon points="594.57,464.45 620.48,476.09 620.48,477.85 594.57,466.21" fill="#21395a"/>
<polygon points="594.57,465.98 620.48,477.62 620.48,479.38 594.57,467.74" fill="#281e4c"/>
<polygon points="594.57,467.51 620.48,479.15 620.48,480.91 594.57,469.27" fill="#2a1f4f"/>
<polygon points="594.57,469.05 620.48,480.68 620.48,482.44 594.57,470.80" fill="#281d4a"/>
<polygon points="594.57,470.58 620.48,482.22 620.48,483.97 594.57,472.34" fill="#2a1f4f"/>
<polygon points="594.57,472.11 620.48,483.75 620.48,485.51 594.57,473.87" fill="#261c47"/>
<polygon points="594.57,473.64 620.48,485.28 620.48,487.04 594.57,475.40" fill="#1f5563"/>
<polygon points="594.57,475.17 620.48,486.81 620.48,488.57 594.57,476.93" fill="#1e5360"/>
<polygon points="594.57,476.71 620.48,488.34 620.48,490.10 594.57,478.46" fill="#1d515e"/>
<polygon points="594.57,478.24 620.48,489.88 620.48,491.63 594.57,480.00" fill="#1f5765"/>
<polygon points="594.57,479.77 620.48,491.41 620.48,493.17 594.57,481.53" fill="#1e5461"/>
<polygon points="594.57,481.30 620.48,492.94 620.48,494.70 594.57,483.06" fill="#214860"/>
<polygon points="594.57,482.83 620.48,494.47 620.48,496.23 594.57,484.59" fill="#1f435a"/>
<polygon points="594.57,484.37 620.48,496.00 620.48,497.76 594.57,486.13" fill="#214860"/>
<polygon points="594.57,485.90 620.48,497.54 620.48,499.30 594.57,487.66" fill="#1e4359"/>
<polygon points="620.48,453.10 646.39,464.74 646.39,466.50 620.48,454.86" fill="#2a0741"/>
<polygon points="620.48,454.64 646.39,466.27 646.39,468.03 620.48,456.40" fill="#2a0741"/>
<polygon points="620.48,456.17 646.39,467.81 646.39,469.57 620.48,457.93" fill="#2a0740"/>
<polygon points="620.48,457.70 646.39,469.34 646.39,471.10 620.48,459.46" fill="#27073d"/>
<polygon points="620.48,459.23 646.39,470.87 646.39,472.63 620.48,460.99" fill="#2a0741"/>
<polygon points="620.48,460.77 646.39,472.40 646.39,474.16 620.48,462.52" fill="#27073c"/>
<polygon points="620.48,462.30 646.39,473.94 646.39,475.69 620.48,464.06" fill="#28073d"/>
<polygon points="620.48,463.83 646.39,475.47 646.39,477.23 620.48,465.59" fill="#28073d"/>
<polygon points="620.48,465.36 646.39,477.00 646.39,478.76 620.48,467.12" fill="#27073c"/>
<polygon points="620.48,466.89 646.39,478.53 646.39,480.29 620.48,468.65" fill="#270b3f"/>
<polygon points="620.48,468.43 646.39,480.06 646.39,481.82 620.48,470.18" fill="#21294e"/>
<polygon points="620.48,469.96 646.39,481.60 646.39,483.35 620.48,471.72" fill="#1f2648"/>
<polygon points="620.48,471.49 646.39,483.13 646.39,484.89 620.48,473.25" fill="#21294f"/>
<polygon points="620.48,473.02 646.39,484.66 646.39,486.42 620.48,474.78" fill="#1e2547"/>
<polygon points="620.48,474.55 646.39,486.19 646.39,487.95 620.48,476.31" fill="#20274c"/>
<polygon points="620.48,476.09 646.39,487.72 646.39,489.48 620.48,477.85" fill="#223457"/>
<polygon points="620.48,477.62 646.39,489.26 646.39,491.02 620.48,479.38" fill="#27244e"/>
<polygon points="620.48,479.15 646.39,490.79 646.39,492.55 620.48,480.91" fill="#26234c"/>
<polygon points="620.48,480.68 646.39,492.32 646.39,494.08 620.48,482.44" fill="#242148"/>
<polygon points="620.48,482.22 646.39,493.85 646.39,495.61 620.48,483.97" fill="#27244e"/>
<polygon points="620.48,483.75 646.39,495.38 646.39,497.14 620.48,485.51" fill="#242148"/>
<polygon points="620.48,485.28 646.39,496.92 646.39,498.68 620.48,487.04" fill="#1f4256"/>
<polygon points="620.48,486.81 646.39,498.45 646.39,500.21 620.48,488.57" fill="#21465c"/>
<polygon points="620.48,488.34 646.39,499.98 646.39,501.74 620.48,490.10" fill="#1c595f"/>
<polygon points="620.48,489.88 646.39,501.51 646.39,503.27 620.48,491.63" fill="#1d5c63"/>
<polygon points="620.48,491.41 646.39,503.05 646.39,504.80 620.48,493.17" fill="#1c5a61"/>
<polygon points="620.48,492.94 646.39,504.58 646.39,506.34 620.48,494.70" fill="#1f5765"/>
<polygon points="620.48,494.47 646.39,506.11 646.39,507.87 620.48,496.23" fill="#1d525f"/>
<polygon points="620.48,496.00 646.39,507.64 646.39,509.40 620.48,497.76" fill="#1e5462"/>
<polygon points="620.48,497.54 646.39,509.17 646.39,510.93 620.48,499.30" fill="#21415b"/>
<polygon points="646.39,464.74 672.30,476.38 672.30,478.14 646.39,466.50" fill="#2b0741"/>
<polygon points="646.39,466.27 672.30,477.91 672.30,479.67 646.39,468.03" fill="#2c0742"/>
<polygon points="646.39,467.81 672.30,479.44 672.30,481.20 646.39,469.57" fill="#2c0743"/>
<polygon points="646.39,469.34 672.30,480.98 672.30,482.74 646.39,471.10" fill="#2b0741"/>
<polygon points="646.39,470.87 672.30,482.51 672.30,484.27 646.39,472.63" fill="#2b0742"/>
<polygon points="646.39,472.40 672.30,484.04 672.30,485.80 646.39,474.16" fill="#2a073f"/>
<polygon points="646.39,473.94 672.30,485.57 672.30,487.33 646.39,475.69" fill="#28073d"/>
<polygon points="646.39,475.47 672.30,487.11 672.30,488.86 646.39,477.23" fill="#2d0844"/>
<polygon points="646.39,477.00 672.30,488.64 672.30,490.40 646.39,478.76" fill="#29073d"/>
<polygon points="646.39,478.53 672.30,490.17 672.30,491.93 646.39,480.29" fill="#250f3e"/>
<polygon points="646.39,480.06 672.30,491.70 672.30,493.46 646.39,481.82" fill="#241c48"/>
<polygon points="646.39,481.60 672.30,493.23 672.30,494.99 646.39,483.35" fill="#221a43"/>
<polygon points="646.39,483.13 672.30,494.77 672.30,496.52 646.39,484.89" fill="#231b45"/>
<polygon points="646.39,484.66 672.30,496.30 672.30,498.06 646.39,486.42" fill="#211a42"/>
<polygon points="646.39,486.19 672.30,497.83 672.30,499.59 646.39,487.95" fill="#221b44"/>
<polygon points="646.39,487.72 672.30,499.36 672.30,501.12 646.39,489.48" fill="#261945"/>
<polygon points="646.39,489.26 672.30,500.89 672.30,502.65 646.39,491.02" fill="#23274c"/>
<polygon points="646.39,490.79 672.30,502.43 672.30,504.19 646.39,492.55" fill="#24284d"/>
<polygon points="646.39,492.32 672.30,503.96 672.30,505.72 646.39,494.08" fill="#262a51"/>
<polygon points="646.39,493.85 672.30,505.49 672.30,507.25 646.39,495.61" fill="#24284d"/>
<polygon points="646.39,495.38 672.30,507.02 672.30,508.78 646.39,497.14" fill="#24284d"/>
<polygon points="646.39,496.92 672.30,508.55 672.30,510.31 646.39,498.68" fill="#243958"/>
<polygon points="646.39,498.45 672.30,510.09 672.30,511.85 646.39,500.21" fill="#233856"/>
<polygon points="646.39,499.98 672.30,511.62 672.30,513.38 646.39,501.74" fill="#1c6566"/>
<polygon points="646.39,501.51 672.30,513.15 672.30,514.91 646.39,503.27" fill="#1d6a6b"/>
<polygon points="646.39,503.05 672.30,514.68 672.30,516.44 646.39,504.80" fill="#1b6464"/>
<polygon points="646.39,504.58 672.30,516.22 672.30,517.97 646.39,506.34" fill="#1d676a"/>
<polygon points="646.39,506.11 672.30,517.75 672.30,519.51 646.39,507.87" fill="#212f4b"/>
<polygon points="646.39,507.64 672.30,519.28 672.30,521.04 646.39,509.40" fill="#1d676a"/>
<polygon points="646.39,509.17 672.30,520.81 672.30,522.57 646.39,510.93" fill="#1f3953"/>
<polygon points="672.30,476.38 698.21,488.02 698.21,489.78 672.30,478.14" fill="#2a073e"/>
<polygon points="672.30,477.91 698.21,489.55 698.21,491.31 672.30,479.67" fill="#2c0741"/>
<polygon points="672.30,479.44 698.21,491.08 698.21,492.84 672.30,481.20" fill="#28073c"/>
<polygon points="672.30,480.98 698.21,492.61 698.21,494.37 672.30,482.74" fill="#2a073f"/>
<polygon points="672.30,482.51 698.21,494.15 698.21,495.91 672.30,484.27" fill="#2c0742"/>
<polygon points="672.30,484.04 698.21,495.68 698.21,497.44 672.30,485.80" fill="#280b3f"/>
<polygon points="672.30,485.57 698.21,497.21 698.21,498.97 672.30,487.33" fill="#290b41"/>
<polygon points="672.30,487.11 698.21,498.74 698.21,500.50 672.30,488.86" fill="#2c0b45"/>
<polygon points="672.30,488.64 698.21,500.27 698.21,502.03 672.30,490.40" fill="#2b0b43"/>
<polygon points="672.30,490.17 698.21,501.81 698.21,503.57 672.30,491.93" fill="#23133f"/>
<polygon points="672.30,491.70 698.21,503.34 698.21,505.10 672.30,493.46" fill="#22133e"/>
<polygon points="672.30,493.23 698.21,504.87 698.21,506.63 672.30,494.99" fill="#21133c"/>
<polygon points="672.30,494.77 698.21,506.40 698.21,508.16 672.30,496.52" fill="#251543"/>
<polygon points="672.30,496.30 698.21,507.94 698.21,509.69 672.30,498.06" fill="#22133d"/>
<polygon points="672.30,497.83 698.21,509.47 698.21,511.23 672.30,499.59" fill="#241743"/>
<polygon points="672.30,499.36 698.21,511.00 698.21,512.76 672.30,501.12" fill="#232f51"/>
<polygon points="672.30,500.89 698.21,512.53 698.21,514.29 672.30,502.65" fill="#253156"/>
<polygon points="672.30,502.43 698.21,514.06 698.21,515.82 672.30,504.19" fill="#243155"/>
<polygon points="672.30,503.96 698.21,515.60 698.21,517.36 672.30,505.72" fill="#243054"/>
<polygon points="672.30,505.49 698.21,517.13 698.21,518.89 672.30,507.25" fill="#243757"/>
<polygon points="672.30,507.02 698.21,518.66 698.21,520.42 672.30,508.78" fill="#243656"/>
<polygon points="672.30,508.55 698.21,520.19 698.21,521.95 672.30,510.31" fill="#233553"/>
<polygon points="672.30,510.09 698.21,521.72 698.21,523.48 672.30,511.85" fill="#21324f"/>
<polygon points="672.30,511.62 698.21,523.26 698.21,525.02 672.30,513.38" fill="#1a6864"/>
<polygon points="672.30,513.15 698.21,524.79 698.21,526.55 672.30,514.91" fill="#1a5c5e"/>
<polygon points="672.30,514.68 698.21,526.32 698.21,528.08 672.30,516.44" fill="#1c6163"/>
<polygon points="672.30,516.22 698.21,527.85 698.21,529.61 672.30,517.97" fill="#1b6061"/>
<polygon points="672.30,517.75 698.21,529.39 698.21,531.14 672.30,519.51" fill="#196461"/>
<polygon points="672.30,519.28 698.21,530.92 698.21,532.68 672.30,521.04" fill="#1b6965"/>
<polygon points="672.30,520.81 698.21,532.45 698.21,534.21 672.30,522.57" fill="#203c55"/>
<polygon points="698.21,488.02 724.12,499.66 724.12,501.41 698.21,489.78" fill="#2b0741"/>
<polygon points="698.21,489.55 724.12,501.19 724.12,502.95 698.21,491.31" fill="#2b0740"/>
<polygon points="698.21,491.08 724.12,502.72 724.12,504.48 698.21,492.84" fill="#2a043b"/>
<polygon points="698.21,492.61 724.12,504.25 724.12,506.01 698.21,494.37" fill="#2f0845"/>
<polygon points="698.21,494.15 724.12,505.78 724.12,507.54 698.21,495.91" fill="#2a073f"/>
<polygon points="698.21,495.68 724.12,507.32 724.12,509.08 698.21,497.44" fill="#271748"/>
<polygon points="698.21,497.21 724.12,508.85 724.12,510.61 698.21,498.97" fill="#28184a"/>
<polygon points="698.21,498.74 724.12,510.38 724.12,512.14 698.21,500.50" fill="#271748"/>
<polygon points="698.21,500.27 724.12,511.91 724.12,513.67 698.21,502.03" fill="#28184b"/>
<polygon points="698.21,501.81 724.12,513.44 724.12,515.20 698.21,503.57" fill="#231c46"/>
<polygon points="698.21,503.34 724.12,514.98 724.12,516.74 698.21,505.10" fill="#231c47"/>
<polygon points="698.21,504.87 724.12,516.51 724.12,518.27 698.21,506.63" fill="#241d49"/>
<polygon points="698.21,506.40 724.12,518.04 724.12,519.80 698.21,508.16" fill="#231c47"/>
<polygon points="698.21,507.94 724.12,519.57 724.12,521.33 698.21,509.69" fill="#221b45"/>
<polygon points="698.21,509.47 724.12,521.11 724.12,522.86 698.21,511.23" fill="#202648"/>
<polygon points="698.21,511.00 724.12,522.64 724.12,524.40 698.21,512.76" fill="#223758"/>
<polygon points="698.21,512.53 724.12,524.17 724.12,525.93 698.21,514.29" fill="#213554"/>
<polygon points="698.21,514.06 724.12,525.70 724.12,527.46 698.21,515.82" fill="#223656"/>
<polygon points="698.21,515.60 724.12,527.23 724.12,528.99 698.21,517.36" fill="#203453"/>
<polygon points="698.21,517.13 724.12,528.77 724.12,530.53 698.21,518.89" fill="#1e4957"/>
<polygon points="698.21,518.66 724.12,530.30 724.12,532.06 698.21,520.42" fill="#1e4956"/>
<polygon points="698.21,520.19 724.12,531.83 724.12,533.59 698.21,521.95" fill="#1f4c5a"/>
<polygon points="698.21,521.72 724.12,533.36 724.12,535.12 698.21,523.48" fill="#204e5c"/>
<polygon points="698.21,523.26 724.12,534.89 724.12,536.65 698.21,525.02" fill="#1c716a"/>
<polygon points="698.21,524.79 724.12,536.43 724.12,538.19 698.21,526.55" fill="#1f4356"/>
<polygon points="698.21,526.32 724.12,537.96 724.12,539.72 698.21,528.08" fill="#1e4053"/>
<polygon points="698.21,527.85 724.12,539.49 724.12,541.25 698.21,529.61" fill="#21465a"/>
<polygon points="698.21,529.39 724.12,541.02 724.12,542.78 698.21,531.14" fill="#1d6968"/>
<polygon points="698.21,530.92 724.12,542.56 724.12,544.31 698.21,532.68" fill="#22334d"/>
<polygon points="698.21,532.45 724.12,544.09 724.12,545.85 698.21,534.21" fill="#1e4857"/>
<polygon points="724.12,499.66 750.02,511.29 750.02,513.05 724.12,501.41" fill="#2f0845"/>
<polygon points="724.12,501.19 750.02,512.83 750.02,514.58 724.12,502.95" fill="#310849"/>
<polygon points="724.12,502.72 750.02,514.36 750.02,516.12 724.12,504.48" fill="#33084b"/>
<polygon points="724.12,504.25 750.02,515.89 750.02,517.65 724.12,506.01" fill="#2f0846"/>
<polygon points="724.12,505.78 750.02,517.42 750.02,519.18 724.12,507.54" fill="#33084c"/>
<polygon points="724.12,507.32 750.02,518.95 750.02,520.71 724.12,509.08" fill="#282556"/>
<polygon points="724.12,508.85 750.02,520.49 750.02,522.25 724.12,510.61" fill="#272454"/>
<polygon points="724.12,510.38 750.02,522.02 750.02,523.78 724.12,512.14" fill="#2b285c"/>
<polygon points="724.12,511.91 750.02,523.55 750.02,525.31 724.12,513.67" fill="#2a275a"/>
<polygon points="724.12,513.44 750.02,525.08 750.02,526.84 724.12,515.20" fill="#262654"/>
<polygon points="724.12,514.98 750.02,526.61 750.02,528.37 724.12,516.74" fill="#282958"/>
<polygon points="724.12,516.51 750.02,528.15 750.02,529.91 724.12,518.27" fill="#252653"/>
<polygon points="724.12,518.04 750.02,529.68 750.02,531.44 724.12,519.80" fill="#282858"/>
<polygon points="724.12,519.57 750.02,531.21 750.02,532.97 724.12,521.33" fill="#272755"/>
<polygon points="724.12,521.11 750.02,532.74 750.02,534.50 724.12,522.86" fill="#223b5c"/>
<polygon points="724.12,522.64 750.02,534.28 750.02,536.03 724.12,524.40" fill="#213f5d"/>
<polygon points="724.12,524.17 750.02,535.81 750.02,537.57 724.12,525.93" fill="#213f5d"/>
<polygon points="724.12,525.70 750.02,537.34 750.02,539.10 724.12,527.46" fill="#234261"/>
<polygon points="724.12,527.23 750.02,538.87 750.02,540.63 724.12,528.99" fill="#234262"/>
<polygon points="724.12,528.77 750.02,540.40 750.02,542.16 724.12,530.53" fill="#217170"/>
<polygon points="724.12,530.30 750.02,541.94 750.02,543.70 724.12,532.06" fill="#21706f"/>
<polygon points="724.12,531.83 750.02,543.47 750.02,545.23 724.12,533.59" fill="#1e6766"/>
<polygon points="724.12,533.36 750.02,545.00 750.02,546.76 724.12,535.12" fill="#1f6968"/>
<polygon points="724.12,534.89 750.02,546.53 750.02,548.29 724.12,536.65" fill="#1d746c"/>
<polygon points="724.12,536.43 750.02,548.06 750.02,549.82 724.12,538.19" fill="#292f58"/>
<polygon points="724.12,537.96 750.02,549.60 750.02,551.36 724.12,539.72" fill="#282d56"/>
<polygon points="724.12,539.49 750.02,551.13 750.02,552.89 724.12,541.25" fill="#252b50"/>
<polygon points="724.12,541.02 750.02,552.66 750.02,554.42 724.12,542.78" fill="#217072"/>
<polygon points="724.12,542.56 750.02,554.19 750.02,555.95 724.12,544.31" fill="#206c6e"/>
<polygon points="724.12,544.09 750.02,555.73 750.02,557.48 724.12,545.85" fill="#21626a"/>
<polygon points="750.02,511.29 775.93,522.93 775.93,524.69 750.02,513.05" fill="#320e4e"/>
<polygon points="750.02,512.83 775.93,524.46 775.93,526.22 750.02,514.58" fill="#2e0d49"/>
<polygon points="750.02,514.36 775.93,526.00 775.93,527.75 750.02,516.12" fill="#310d4d"/>
<polygon points="750.02,515.89 775.93,527.53 775.93,529.29 750.02,517.65" fill="#300e4c"/>
<polygon points="750.02,517.42 775.93,529.06 775.93,530.82 750.02,519.18" fill="#2e0e4a"/>
<polygon points="750.02,518.95 775.93,530.59 775.93,532.35 750.02,520.71" fill="#272d5a"/>
<polygon points="750.02,520.49 775.93,532.12 775.93,533.88 750.02,522.25" fill="#272d5a"/>
<polygon points="750.02,522.02 775.93,533.66 775.93,535.42 750.02,523.78" fill="#252b57"/>
<polygon points="750.02,523.55 775.93,535.19 775.93,536.95 750.02,525.31" fill="#262c58"/>
<polygon points="750.02,525.08 775.93,536.72 775.93,538.48 750.02,526.84" fill="#282e5d"/>
<polygon points="750.02,526.61 775.93,538.25 775.93,540.01 750.02,528.37" fill="#272d5b"/>
<polygon points="750.02,528.15 775.93,539.78 775.93,541.54 750.02,529.91" fill="#292f5e"/>
<polygon points="750.02,529.68 775.93,541.32 775.93,543.08 750.02,531.44" fill="#283260"/>
<polygon points="750.02,531.21 775.93,542.85 775.93,544.61 750.02,532.97" fill="#293463"/>
<polygon points="750.02,532.74 775.93,544.38 775.93,546.14 750.02,534.50" fill="#234968"/>
<polygon points="750.02,534.28 775.93,545.91 775.93,547.67 750.02,536.03" fill="#224663"/>
<polygon points="750.02,535.81 775.93,547.45 775.93,549.20 750.02,537.57" fill="#244a69"/>
<polygon points="750.02,537.34 775.93,548.98 775.93,550.74 750.02,539.10" fill="#224764"/>
<polygon points="750.02,538.87 775.93,550.51 775.93,552.27 750.02,540.63" fill="#23506a"/>
<polygon points="750.02,540.40 775.93,552.04 775.93,553.80 750.02,542.16" fill="#1c7369"/>
<polygon points="750.02,541.94 775.93,553.57 775.93,555.33 750.02,543.70" fill="#1f7f74"/>
<polygon points="750.02,543.47 775.93,555.11 775.93,556.87 750.02,545.23" fill="#1e7b70"/>
<polygon points="750.02,545.00 775.93,556.64 775.93,558.40 750.02,546.76" fill="#1d766c"/>
<polygon points="750.02,546.53 775.93,558.17 775.93,559.93 750.02,548.29" fill="#1c7369"/>
<polygon points="750.02,548.06 775.93,559.70 775.93,561.46 750.02,549.82" fill="#2a1f50"/>
<polygon points="750.02,549.60 775.93,561.23 775.93,562.99 750.02,551.36" fill="#291f50"/>
<polygon points="750.02,551.13 775.93,562.77 775.93,564.53 750.02,552.89" fill="#292a55"/>
<polygon points="750.02,552.66 775.93,564.30 775.93,566.06 750.02,554.42" fill="#1e6668"/>
<polygon points="750.02,554.19 775.93,565.83 775.93,567.59 750.02,555.95" fill="#1f686a"/>
<polygon points="750.02,555.73 775.93,567.36 775.93,569.12 750.02,557.48" fill="#1e6466"/>
<polygon points="775.93,522.93 801.84,534.57 801.84,536.33 775.93,524.69" fill="#331c5c"/>
<polygon points="775.93,524.46 801.84,536.10 801.84,537.86 775.93,526.22" fill="#311b59"/>
<polygon points="775.93,526.00 801.84,537.63 801.84,539.39 775.93,527.75" fill="#301a57"/>
<polygon points="775.93,527.53 801.84,539.17 801.84,540.92 775.93,529.29" fill="#301e59"/>
<polygon points="775.93,529.06 801.84,540.70 801.84,542.46 775.93,530.82" fill="#2d1c54"/>
<polygon points="775.93,530.59 801.84,542.23 801.84,543.99 775.93,532.35" fill="#27315e"/>
<polygon points="775.93,532.12 801.84,543.76 801.84,545.52 775.93,533.88" fill="#2a1b4e"/>
<polygon points="775.93,533.66 801.84,545.29 801.84,547.05 775.93,535.42" fill="#283160"/>
<polygon points="775.93,535.19 801.84,546.83 801.84,548.59 775.93,536.95" fill="#283261"/>
<polygon points="775.93,536.72 801.84,548.36 801.84,550.12 775.93,538.48" fill="#2b3567"/>
<polygon points="775.93,538.25 801.84,549.89 801.84,551.65 775.93,540.01" fill="#293261"/>
<polygon points="775.93,539.78 801.84,551.42 801.84,553.18 775.93,541.54" fill="#291a4c"/>
<polygon points="775.93,541.32 801.84,552.95 801.84,554.71 775.93,543.08" fill="#253a60"/>
<polygon points="775.93,542.85 801.84,554.49 801.84,556.25 775.93,544.61" fill="#273c63"/>
<polygon points="775.93,544.38 801.84,556.02 801.84,557.78 775.93,546.14" fill="#265070"/>
<polygon points="775.93,545.91 801.84,557.55 801.84,559.31 775.93,547.67" fill="#244c6a"/>
<polygon points="775.93,547.45 801.84,559.08 801.84,560.84 775.93,549.20" fill="#234a67"/>
<polygon points="775.93,548.98 801.84,560.62 801.84,562.37 775.93,550.74" fill="#26506f"/>
<polygon points="775.93,550.51 801.84,562.15 801.84,563.91 775.93,552.27" fill="#236571"/>
<polygon points="775.93,552.04 801.84,563.68 801.84,565.44 775.93,553.80" fill="#1f7f73"/>
<polygon points="775.93,553.57 801.84,565.21 801.84,566.97 775.93,555.33" fill="#208579"/>
<polygon points="775.93,555.11 801.84,566.74 801.84,568.50 775.93,556.87" fill="#1e7a70"/>
<polygon points="775.93,556.64 801.84,568.28 801.84,570.03 775.93,558.40" fill="#1e7a6f"/>
<polygon points="775.93,558.17 801.84,569.81 801.84,571.57 775.93,559.93" fill="#1d786e"/>
<polygon points="775.93,559.70 801.84,571.34 801.84,573.10 775.93,561.46" fill="#2e245a"/>
<polygon points="775.93,561.23 801.84,572.87 801.84,574.63 775.93,562.99" fill="#2e255b"/>
<polygon points="775.93,562.77 801.84,574.40 801.84,576.16 775.93,564.53" fill="#274662"/>
<polygon points="775.93,564.30 801.84,575.94 801.84,577.70 775.93,566.06" fill="#217272"/>
<polygon points="775.93,565.83 801.84,577.47 801.84,579.23 775.93,567.59" fill="#206f6f"/>
<polygon points="775.93,567.36 801.84,579.00 801.84,580.76 775.93,569.12" fill="#1f6c6c"/>
<polygon points="801.84,534.57 827.75,546.21 827.75,547.97 801.84,536.33" fill="#2e265e"/>
<polygon points="801.84,536.10 827.75,547.74 827.75,549.50 801.84,537.86" fill="#2e265f"/>
<polygon points="801.84,537.63 827.75,549.27 827.75,551.03 801.84,539.39" fill="#312965"/>
<polygon points="801.84,539.17 827.75,550.80 827.75,552.56 801.84,540.92" fill="#2c2c60"/>
<polygon points="801.84,540.70 827.75,552.34 827.75,554.09 801.84,542.46" fill="#2c2c60"/>
<polygon points="801.84,542.23 827.75,553.87 827.75,555.63 801.84,543.99" fill="#283461"/>
<polygon points="801.84,543.76 827.75,555.40 827.75,557.16 801.84,545.52" fill="#293665"/>
<polygon points="801.84,545.29 827.75,556.93 827.75,558.69 801.84,547.05" fill="#293665"/>
<polygon points="801.84,546.83 827.75,558.46 827.75,560.22 801.84,548.59" fill="#2b3869"/>
<polygon points="801.84,548.36 827.75,560.00 827.75,561.76 801.84,550.12" fill="#293564"/>
<polygon points="801.84,549.89 827.75,561.53 827.75,563.29 801.84,551.65" fill="#26325e"/>
<polygon points="801.84,551.42 827.75,563.06 827.75,564.82 801.84,553.18" fill="#283461"/>
<polygon points="801.84,552.95 827.75,564.59 827.75,566.35 801.84,554.71" fill="#27496c"/>
<polygon points="801.84,554.49 827.75,566.12 827.75,567.88 801.84,556.25" fill="#254565"/>
<polygon points="801.84,556.02 827.75,567.66 827.75,569.42 801.84,557.78" fill="#234b67"/>
<polygon points="801.84,557.55 827.75,569.19 827.75,570.95 801.84,559.31" fill="#244e6b"/>
<polygon points="801.84,559.08 827.75,570.72 827.75,572.48 801.84,560.84" fill="#26516f"/>
<polygon points="801.84,560.62 827.75,572.25 827.75,574.01 801.84,562.37" fill="#224964"/>
<polygon points="801.84,562.15 827.75,573.79 827.75,575.54 801.84,563.91" fill="#207372"/>
<polygon points="801.84,563.68 827.75,575.32 827.75,577.08 801.84,565.44" fill="#208478"/>
<polygon points="801.84,565.21 827.75,576.85 827.75,578.61 801.84,566.97" fill="#1d796d"/>
<polygon points="801.84,566.74 827.75,578.38 827.75,580.14 801.84,568.50" fill="#1f8074"/>
<polygon points="801.84,568.28 827.75,579.91 827.75,581.67 801.84,570.03" fill="#1f8074"/>
<polygon points="801.84,569.81 827.75,581.45 827.75,583.20 801.84,571.57" fill="#1f7e72"/>
<polygon points="801.84,571.34 827.75,582.98 827.75,584.74 801.84,573.10" fill="#2e285c"/>
<polygon points="801.84,572.87 827.75,584.51 827.75,586.27 801.84,574.63" fill="#2c2659"/>
<polygon points="801.84,574.40 827.75,586.04 827.75,587.80 801.84,576.16" fill="#205862"/>
<polygon points="801.84,575.94 827.75,587.57 827.75,589.33 801.84,577.70" fill="#1e6b69"/>
<polygon points="801.84,577.47 827.75,589.11 827.75,590.87 801.84,579.23" fill="#1e6c6a"/>
<polygon points="801.84,579.00 827.75,590.64 827.75,592.40 801.84,580.76" fill="#207471"/>
<polygon points="827.75,546.21 853.66,557.84 853.66,559.60 827.75,547.97" fill="#2d3368"/>
<polygon points="827.75,547.74 853.66,559.38 853.66,561.14 827.75,549.50" fill="#2d3367"/>
<polygon points="827.75,549.27 853.66,560.91 853.66,562.67 827.75,551.03" fill="#2b1a50"/>
<polygon points="827.75,550.80 853.66,562.44 853.66,564.20 827.75,552.56" fill="#2a3a68"/>
<polygon points="827.75,552.34 853.66,563.97 853.66,565.73 827.75,554.09" fill="#293b68"/>
<polygon points="827.75,553.87 853.66,565.51 853.66,567.26 827.75,555.63" fill="#273963"/>
<polygon points="827.75,555.40 853.66,567.04 853.66,568.80 827.75,557.16" fill="#273661"/>
<polygon points="827.75,556.93 853.66,568.57 853.66,570.33 827.75,558.69" fill="#293966"/>
<polygon points="827.75,558.46 853.66,570.10 853.66,571.86 827.75,560.22" fill="#283864"/>
<polygon points="827.75,560.00 853.66,571.63 853.66,573.39 827.75,561.76" fill="#273662"/>
<polygon points="827.75,561.53 853.66,573.17 853.66,574.92 827.75,563.29" fill="#293c67"/>
<polygon points="827.75,563.06 853.66,574.70 853.66,576.46 827.75,564.82" fill="#2a3e6a"/>
<polygon points="827.75,564.59 853.66,576.23 853.66,577.99 827.75,566.35" fill="#234f68"/>
<polygon points="827.75,566.12 853.66,577.76 853.66,579.52 827.75,567.88" fill="#224e66"/>
<polygon points="827.75,567.66 853.66,579.29 853.66,581.05 827.75,569.42" fill="#25536e"/>
<polygon points="827.75,569.19 853.66,580.83 853.66,582.59 827.75,570.95" fill="#235069"/>
<polygon points="827.75,570.72 853.66,582.36 853.66,584.12 827.75,572.48" fill="#234e67"/>
<polygon points="827.75,572.25 853.66,583.89 853.66,585.65 827.75,574.01" fill="#244b68"/>
<polygon points="827.75,573.79 853.66,585.42 853.66,587.18 827.75,575.54" fill="#1e766d"/>
<polygon points="827.75,575.32 853.66,586.95 853.66,588.71 827.75,577.08" fill="#218076"/>
<polygon points="827.75,576.85 853.66,588.49 853.66,590.25 827.75,578.61" fill="#1e746c"/>
<polygon points="827.75,578.38 853.66,590.02 853.66,591.78 827.75,580.14" fill="#1f7970"/>
<polygon points="827.75,579.91 853.66,591.55 853.66,593.31 827.75,581.67" fill="#244356"/>
<polygon points="827.75,581.45 853.66,593.08 853.66,594.84 827.75,583.20" fill="#1f7e72"/>
<polygon points="827.75,582.98 853.66,594.62 853.66,596.37 827.75,584.74" fill="#2f3062"/>
<polygon points="827.75,584.51 853.66,596.15 853.66,597.91 827.75,586.27" fill="#2c2d5c"/>
<polygon points="827.75,586.04 853.66,597.68 853.66,599.44 827.75,587.80" fill="#1d6c68"/>
<polygon points="827.75,587.57 853.66,599.21 853.66,600.97 827.75,589.33" fill="#207873"/>
<polygon points="827.75,589.11 853.66,600.74 853.66,602.50 827.75,590.87" fill="#1e716d"/>
<polygon points="827.75,590.64 853.66,602.28 853.66,604.04 827.75,592.40" fill="#1f6f6d"/>
<polygon points="853.66,557.84 879.57,569.48 879.57,571.24 853.66,559.60" fill="#2f4072"/>
<polygon points="853.66,559.38 879.57,571.01 879.57,572.77 853.66,561.14" fill="#2e3f6e"/>
<polygon points="853.66,560.91 879.57,572.55 879.57,574.31 853.66,562.67" fill="#2b3b68"/>
<polygon points="853.66,562.44 879.57,574.08 879.57,575.84 853.66,564.20" fill="#283e66"/>
<polygon points="853.66,563.97 879.57,575.61 879.57,577.37 853.66,565.73" fill="#264d6b"/>
<polygon points="853.66,565.51 879.57,577.14 879.57,578.90 853.66,567.26" fill="#234864"/>
<polygon points="853.66,567.04 879.57,578.68 879.57,580.43 853.66,568.80" fill="#281f4f"/>
<polygon points="853.66,568.57 879.57,580.21 879.57,581.97 853.66,570.33" fill="#283c67"/>
<polygon points="853.66,570.10 879.57,581.74 879.57,583.50 853.66,571.86" fill="#263a63"/>
<polygon points="853.66,571.63 879.57,583.27 879.57,585.03 853.66,573.39" fill="#293f6b"/>
<polygon points="853.66,573.17 879.57,584.80 879.57,586.56 853.66,574.92" fill="#235365"/>
<polygon points="853.66,574.70 879.57,586.34 879.57,588.09 853.66,576.46" fill="#225264"/>
<polygon points="853.66,576.23 879.57,587.87 879.57,589.63 853.66,577.99" fill="#22626c"/>
<polygon points="853.66,577.76 879.57,589.40 879.57,591.16 853.66,579.52" fill="#21626b"/>
<polygon points="853.66,579.29 879.57,590.93 879.57,592.69 853.66,581.05" fill="#205d65"/>
<polygon points="853.66,580.83 879.57,592.46 879.57,594.22 853.66,582.59" fill="#205f68"/>
<polygon points="853.66,582.36 879.57,594.00 879.57,595.76 853.66,584.12" fill="#1f5b64"/>
<polygon points="853.66,583.89 879.57,595.53 879.57,597.29 853.66,585.65" fill="#264265"/>
<polygon points="853.66,585.42 879.57,597.06 879.57,598.82 853.66,587.18" fill="#235b68"/>
<polygon points="853.66,586.95 879.57,598.59 879.57,600.35 853.66,588.71" fill="#245d6b"/>
<polygon points="853.66,588.49 879.57,600.12 879.57,601.88 853.66,590.25" fill="#225865"/>
<polygon points="853.66,590.02 879.57,601.66 879.57,603.42 853.66,591.78" fill="#215764"/>
<polygon points="853.66,591.55 879.57,603.19 879.57,604.95 853.66,593.31" fill="#1d7469"/>
<polygon points="853.66,593.08 879.57,604.72 879.57,606.48 853.66,594.84" fill="#1b6f64"/>
<polygon points="853.66,594.62 879.57,606.25 879.57,608.01 853.66,596.37" fill="#24465c"/>
<polygon points="853.66,596.15 879.57,607.79 879.57,609.54 853.66,597.91" fill="#274c63"/>
<polygon points="853.66,597.68 879.57,609.32 879.57,611.08 853.66,599.44" fill="#1c6c65"/>
<polygon points="853.66,599.21 879.57,610.85 879.57,612.61 853.66,600.97" fill="#1c6b64"/>
<polygon points="853.66,600.74 879.57,612.38 879.57,614.14 853.66,602.50" fill="#1d6e67"/>
<polygon points="853.66,602.28 879.57,613.91 879.57,615.67 853.66,604.04" fill="#206067"/>
<polygon points="879.57,569.48 905.48,581.12 905.48,582.88 879.57,571.24" fill="#2b466f"/>
<polygon points="879.57,571.01 905.48,582.65 905.48,584.41 879.57,572.77" fill="#2a446b"/>
<polygon points="879.57,572.55 905.48,584.18 905.48,585.94 879.57,574.31" fill="#2b466f"/>
<polygon points="879.57,574.08 905.48,585.72 905.48,587.48 879.57,575.84" fill="#2b4970"/>
<polygon points="879.57,575.61 905.48,587.25 905.48,589.01 879.57,577.37" fill="#215a69"/>
<polygon points="879.57,577.14 905.48,588.78 905.48,590.54 879.57,578.90" fill="#205664"/>
<polygon points="879.57,578.68 905.48,590.31 905.48,592.07 879.57,580.43" fill="#292252"/>
<polygon points="879.57,580.21 905.48,591.85 905.48,593.60 879.57,581.97" fill="#29426c"/>
<polygon points="879.57,581.74 905.48,593.38 905.48,595.14 879.57,583.50" fill="#2a446f"/>
<polygon points="879.57,583.27 905.48,594.91 905.48,596.67 879.57,585.03" fill="#2b4671"/>
<polygon points="879.57,584.80 905.48,596.44 905.48,598.20 879.57,586.56" fill="#206e6a"/>
<polygon points="879.57,586.34 905.48,597.97 905.48,599.73 879.57,588.09" fill="#1d6762"/>
<polygon points="879.57,587.87 905.48,599.51 905.48,601.26 879.57,589.63" fill="#1d6c65"/>
<polygon points="879.57,589.40 905.48,601.04 905.48,602.80 879.57,591.16" fill="#1e6e67"/>
<polygon points="879.57,590.93 905.48,602.57 905.48,604.33 879.57,592.69" fill="#1f746c"/>
<polygon points="879.57,592.46 905.48,604.10 905.48,605.86 879.57,594.22" fill="#1d6d65"/>
<polygon points="879.57,594.00 905.48,605.63 905.48,607.39 879.57,595.76" fill="#23364c"/>
<polygon points="879.57,595.53 905.48,607.17 905.48,608.93 879.57,597.29" fill="#27375f"/>
<polygon points="879.57,597.06 905.48,608.70 905.48,610.46 879.57,598.82" fill="#284367"/>
<polygon points="879.57,598.59 905.48,610.23 905.48,611.99 879.57,600.35" fill="#2a466c"/>
<polygon points="879.57,600.12 905.48,611.76 905.48,613.52 879.57,601.88" fill="#294468"/>
<polygon points="879.57,601.66 905.48,613.29 905.48,615.05 879.57,603.42" fill="#274062"/>
<polygon points="879.57,603.19 905.48,614.83 905.48,616.59 879.57,604.95" fill="#1e776b"/>
<polygon points="879.57,604.72 905.48,616.36 905.48,618.12 879.57,606.48" fill="#1e7a6e"/>
<polygon points="879.57,606.25 905.48,617.89 905.48,619.65 879.57,608.01" fill="#206767"/>
<polygon points="879.57,607.79 905.48,619.42 905.48,621.18 879.57,609.54" fill="#1f6464"/>
<polygon points="879.57,609.32 905.48,620.96 905.48,622.71 879.57,611.08" fill="#1b6c63"/>
<polygon points="879.57,610.85 905.48,622.49 905.48,624.25 879.57,612.61" fill="#1c7066"/>
<polygon points="879.57,612.38 905.48,624.02 905.48,625.78 879.57,614.14" fill="#1c6f66"/>
<polygon points="879.57,613.91 905.48,625.55 905.48,627.31 879.57,615.67" fill="#204f5f"/>
<polygon points="905.48,581.12 1265.06,463.00 1265.06,574.16 905.48,692.20" fill="#320244"/>
<polygon points="905.48,581.12 941.44,569.31 941.44,571.07 905.48,582.88" fill="#335883"/>
<polygon points="905.48,582.65 941.44,570.84 941.44,572.60 905.48,584.41" fill="#31537d"/>
<polygon points="905.48,584.18 941.44,572.37 941.44,574.13 905.48,585.94" fill="#325680"/>
<polygon points="905.48,585.72 941.44,573.90 941.44,575.66 905.48,587.48" fill="#335782"/>
<polygon points="905.48,587.25 941.44,575.44 941.44,577.20 905.48,589.01" fill="#276b7a"/>
<polygon points="905.48,588.78 941.44,576.97 941.44,578.73 905.48,590.54" fill="#256674"/>
<polygon points="905.48,590.31 941.44,578.50 941.44,580.26 905.48,592.07" fill="#2e527e"/>
<polygon points="905.48,591.85 941.44,580.03 941.44,581.79 905.48,593.60" fill="#2e537e"/>
<polygon points="905.48,593.38 941.44,581.56 941.44,583.32 905.48,595.14" fill="#2e537f"/>
<polygon points="905.48,594.91 941.44,583.10 941.44,584.86 905.48,596.67" fill="#2e537f"/>
<polygon points="905.48,596.44 941.44,584.63 941.44,586.39 905.48,598.20" fill="#265868"/>
<polygon points="905.48,597.97 941.44,586.16 941.44,587.92 905.48,599.73" fill="#217c74"/>
<polygon points="905.48,599.51 941.44,587.69 941.44,589.45 905.48,601.26" fill="#217e76"/>
<polygon points="905.48,601.04 941.44,589.23 941.44,590.98 905.48,602.80" fill="#228077"/>
<polygon points="905.48,602.57 941.44,590.76 941.44,592.52 905.48,604.33" fill="#217d75"/>
<polygon points="905.48,604.10 941.44,592.29 941.44,594.05 905.48,605.86" fill="#23837a"/>
<polygon points="905.48,605.63 941.44,593.82 941.44,595.58 905.48,607.39" fill="#247577"/>
<polygon points="905.48,607.17 941.44,595.35 941.44,597.11 905.48,608.93" fill="#304075"/>
<polygon points="905.48,608.70 941.44,596.89 941.44,598.65 905.48,610.46" fill="#2f3f73"/>
<polygon points="905.48,610.23 941.44,598.42 941.44,600.18 905.48,611.99" fill="#2e3e71"/>
<polygon points="905.48,611.76 941.44,599.95 941.44,601.71 905.48,613.52" fill="#304075"/>
<polygon points="905.48,613.29 941.44,601.48 941.44,603.24 905.48,615.05" fill="#207873"/>
<polygon points="905.48,614.83 941.44,603.01 941.44,604.77 905.48,616.59" fill="#1f7470"/>
<polygon points="905.48,616.36 941.44,604.55 941.44,606.31 905.48,618.12" fill="#207975"/>
<polygon points="905.48,617.89 941.44,606.08 941.44,607.84 905.48,619.65" fill="#207773"/>
<polygon points="905.48,619.42 941.44,607.61 941.44,609.37 905.48,621.18" fill="#1f7571"/>
<polygon points="905.48,620.96 941.44,609.14 941.44,610.90 905.48,622.71" fill="#1f7672"/>
<polygon points="905.48,622.49 941.44,610.68 941.44,612.43 905.48,624.25" fill="#255466"/>
<polygon points="905.48,624.02 941.44,612.21 941.44,613.97 905.48,625.78" fill="#28526e"/>
<polygon points="905.48,625.55 941.44,613.74 941.44,615.50 905.48,627.31" fill="#27506b"/>
<polygon points="941.44,569.31 977.40,557.50 977.40,559.25 941.44,571.07" fill="#335985"/>
<polygon points="941.44,570.84 977.40,559.03 977.40,560.79 941.44,572.60" fill="#335985"/>
<polygon points="941.44,572.37 977.40,560.56 977.40,562.32 941.44,574.13" fill="#355c8a"/>
<polygon points="941.44,573.90 977.40,562.09 977.40,563.85 941.44,575.66" fill="#325782"/>
<polygon points="941.44,575.44 977.40,563.62 977.40,565.38 941.44,577.20" fill="#2b637d"/>
<polygon points="941.44,576.97 977.40,565.16 977.40,566.91 941.44,578.73" fill="#2c6781"/>
<polygon points="941.44,578.50 977.40,566.69 977.40,568.45 941.44,580.26" fill="#305b87"/>
<polygon points="941.44,580.03 977.40,568.22 977.40,569.98 941.44,581.79" fill="#2d557e"/>
<polygon points="941.44,581.56 977.40,569.75 977.40,571.51 941.44,583.32" fill="#2e5882"/>
<polygon points="941.44,583.10 977.40,571.28 977.40,573.04 941.44,584.86" fill="#2e5781"/>
<polygon points="941.44,584.63 977.40,572.82 977.40,574.58 941.44,586.39" fill="#287080"/>
<polygon points="941.44,586.16 977.40,574.35 977.40,576.11 941.44,587.92" fill="#217e75"/>
<polygon points="941.44,587.69 977.40,575.88 977.40,577.64 941.44,589.45" fill="#217f76"/>
<polygon points="941.44,589.23 977.40,577.41 977.40,579.17 941.44,590.98" fill="#228178"/>
<polygon points="941.44,590.76 977.40,578.94 977.40,580.70 941.44,592.52" fill="#207c73"/>
<polygon points="941.44,592.29 977.40,580.48 977.40,582.24 941.44,594.05" fill="#217c74"/>
<polygon points="941.44,593.82 977.40,582.01 977.40,583.77 941.44,595.58" fill="#276175"/>
<polygon points="941.44,595.35 977.40,583.54 977.40,585.30 941.44,597.11" fill="#314579"/>
<polygon points="941.44,596.89 977.40,585.07 977.40,586.83 941.44,598.65" fill="#2e4173"/>
<polygon points="941.44,598.42 977.40,586.61 977.40,588.36 941.44,600.18" fill="#31467a"/>
<polygon points="941.44,599.95 977.40,588.14 977.40,589.90 941.44,601.71" fill="#2e4274"/>
<polygon points="941.44,601.48 977.40,589.67 977.40,591.43 941.44,603.24" fill="#237d7c"/>
<polygon points="941.44,603.01 977.40,591.20 977.40,592.96 941.44,604.77" fill="#227c7b"/>
<polygon points="941.44,604.55 977.40,592.73 977.40,594.49 941.44,606.31" fill="#227c7b"/>
<polygon points="941.44,606.08 977.40,594.27 977.40,596.03 941.44,607.84" fill="#217877"/>
<polygon points="941.44,607.61 977.40,595.80 977.40,597.56 941.44,609.37" fill="#237e7d"/>
<polygon points="941.44,609.14 977.40,597.33 977.40,599.09 941.44,610.90" fill="#227b7a"/>
<polygon points="941.44,610.68 977.40,598.86 977.40,600.62 941.44,612.43" fill="#276979"/>
<polygon points="941.44,612.21 977.40,600.39 977.40,602.15 941.44,613.97" fill="#2c5576"/>
<polygon points="941.44,613.74 977.40,601.93 977.40,603.69 941.44,615.50" fill="#29506f"/>
<polygon points="977.40,557.50 1013.35,545.68 1013.35,547.44 977.40,559.25" fill="#305780"/>
<polygon points="977.40,559.03 1013.35,547.21 1013.35,548.97 977.40,560.79" fill="#2f557e"/>
<polygon points="977.40,560.56 1013.35,548.75 1013.35,550.51 977.40,562.32" fill="#335c89"/>
<polygon points="977.40,562.09 1013.35,550.28 1013.35,552.04 977.40,563.85" fill="#2f567f"/>
<polygon points="977.40,563.62 1013.35,551.81 1013.35,553.57 977.40,565.38" fill="#2e5c81"/>
<polygon points="977.40,565.16 1013.35,553.34 1013.35,555.10 977.40,566.91" fill="#2e5c81"/>
<polygon points="977.40,566.69 1013.35,554.88 1013.35,556.63 977.40,568.45" fill="#304776"/>
<polygon points="977.40,568.22 1013.35,556.41 1013.35,558.17 977.40,569.98" fill="#2e5c84"/>
<polygon points="977.40,569.75 1013.35,557.94 1013.35,559.70 977.40,571.51" fill="#2b567c"/>
<polygon points="977.40,571.28 1013.35,559.47 1013.35,561.23 977.40,573.04" fill="#2e5c84"/>
<polygon points="977.40,572.82 1013.35,561.00 1013.35,562.76 977.40,574.58" fill="#295e7b"/>
<polygon points="977.40,574.35 1013.35,562.54 1013.35,564.30 977.40,576.11" fill="#207c72"/>
<polygon points="977.40,575.88 1013.35,564.07 1013.35,565.83 977.40,577.64" fill="#218177"/>
<polygon points="977.40,577.41 1013.35,565.60 1013.35,567.36 977.40,579.17" fill="#217f75"/>
<polygon points="977.40,578.94 1013.35,567.13 1013.35,568.89 977.40,580.70" fill="#22857b"/>
<polygon points="977.40,580.48 1013.35,568.66 1013.35,570.42 977.40,582.24" fill="#218076"/>
<polygon points="977.40,582.01 1013.35,570.20 1013.35,571.96 977.40,583.77" fill="#2d547c"/>
<polygon points="977.40,583.54 1013.35,571.73 1013.35,573.49 977.40,585.30" fill="#2e4677"/>
<polygon points="977.40,585.07 1013.35,573.26 1013.35,575.02 977.40,586.83" fill="#2f4779"/>
<polygon points="977.40,586.61 1013.35,574.79 1013.35,576.55 977.40,588.36" fill="#2d4574"/>
<polygon points="977.40,588.14 1013.35,576.33 1013.35,578.08 977.40,589.90" fill="#2d4474"/>
<polygon points="977.40,589.67 1013.35,577.86 1013.35,579.62 977.40,591.43" fill="#227578"/>
<polygon points="977.40,591.20 1013.35,579.39 1013.35,581.15 977.40,592.96" fill="#227476"/>
<polygon points="977.40,592.73 1013.35,580.92 1013.35,582.68 977.40,594.49" fill="#217375"/>
<polygon points="977.40,594.27 1013.35,582.45 1013.35,584.21 977.40,596.03" fill="#227477"/>
<polygon points="977.40,595.80 1013.35,583.99 1013.35,585.74 977.40,597.56" fill="#227678"/>
<polygon points="977.40,597.33 1013.35,585.52 1013.35,587.28 977.40,599.09" fill="#23787a"/>
<polygon points="977.40,598.86 1013.35,587.05 1013.35,588.81 977.40,600.62" fill="#295675"/>
<polygon points="977.40,600.39 1013.35,588.58 1013.35,590.34 977.40,602.15" fill="#2a4e71"/>
<polygon points="977.40,601.93 1013.35,590.11 1013.35,591.87 977.40,603.69" fill="#2b5074"/>
<polygon points="1013.35,545.68 1049.31,533.87 1049.31,535.63 1013.35,547.44" fill="#2e587f"/>
<polygon points="1013.35,547.21 1049.31,535.40 1049.31,537.16 1013.35,548.97" fill="#2d567c"/>
<polygon points="1013.35,548.75 1049.31,536.93 1049.31,538.69 1013.35,550.51" fill="#2e587f"/>
<polygon points="1013.35,550.28 1049.31,538.47 1049.31,540.23 1013.35,552.04" fill="#2f5a83"/>
<polygon points="1013.35,551.81 1049.31,540.00 1049.31,541.76 1013.35,553.57" fill="#2c547a"/>
<polygon points="1013.35,553.34 1049.31,541.53 1049.31,543.29 1013.35,555.10" fill="#2f5981"/>
<polygon points="1013.35,554.88 1049.31,543.06 1049.31,544.82 1013.35,556.63" fill="#2a587b"/>
<polygon points="1013.35,556.41 1049.31,544.60 1049.31,546.35 1013.35,558.17" fill="#2d5a81"/>
<polygon points="1013.35,557.94 1049.31,546.13 1049.31,547.89 1013.35,559.70" fill="#2b577d"/>
<polygon points="1013.35,559.47 1049.31,547.66 1049.31,549.42 1013.35,561.23" fill="#2c5980"/>
<polygon points="1013.35,561.00 1049.31,549.19 1049.31,550.95 1013.35,562.76" fill="#2a5478"/>
<polygon points="1013.35,562.54 1049.31,550.72 1049.31,552.48 1013.35,564.30" fill="#227171"/>
<polygon points="1013.35,564.07 1049.31,552.26 1049.31,554.01 1013.35,565.83" fill="#227474"/>
<polygon points="1013.35,565.60 1049.31,553.79 1049.31,555.55 1013.35,567.36" fill="#1f7d72"/>
<polygon points="1013.35,567.13 1049.31,555.32 1049.31,557.08 1013.35,568.89" fill="#1f796e"/>
<polygon points="1013.35,568.66 1049.31,556.85 1049.31,558.61 1013.35,570.42" fill="#26646b"/>
<polygon points="1013.35,570.20 1049.31,558.38 1049.31,560.14 1013.35,571.96" fill="#2a5375"/>
<polygon points="1013.35,571.73 1049.31,559.92 1049.31,561.68 1013.35,573.49" fill="#2e4c7a"/>
<polygon points="1013.35,573.26 1049.31,561.45 1049.31,563.21 1013.35,575.02" fill="#2c4a76"/>
<polygon points="1013.35,574.79 1049.31,562.98 1049.31,564.74 1013.35,576.55" fill="#2c5579"/>
<polygon points="1013.35,576.33 1049.31,564.51 1049.31,566.27 1013.35,578.08" fill="#2c567a"/>
<polygon points="1013.35,577.86 1049.31,566.04 1049.31,567.80 1013.35,579.62" fill="#24787d"/>
<polygon points="1013.35,579.39 1049.31,567.58 1049.31,569.34 1013.35,581.15" fill="#23757b"/>
<polygon points="1013.35,580.92 1049.31,569.11 1049.31,570.87 1013.35,582.68" fill="#275a6f"/>
<polygon points="1013.35,582.45 1049.31,570.64 1049.31,572.40 1013.35,584.21" fill="#237479"/>
<polygon points="1013.35,583.99 1049.31,572.17 1049.31,573.93 1013.35,585.74" fill="#227277"/>
<polygon points="1013.35,585.52 1049.31,573.71 1049.31,575.46 1013.35,587.28" fill="#23757a"/>
<polygon points="1013.35,587.05 1049.31,575.24 1049.31,577.00 1013.35,588.81" fill="#2b4d73"/>
<polygon points="1013.35,588.58 1049.31,576.77 1049.31,578.53 1013.35,590.34" fill="#2b4d73"/>
<polygon points="1013.35,590.11 1049.31,578.30 1049.31,580.06 1013.35,591.87" fill="#2d5179"/>
<polygon points="1049.31,533.87 1085.27,522.06 1085.27,523.82 1049.31,535.63" fill="#2b597c"/>
<polygon points="1049.31,535.40 1085.27,523.59 1085.27,525.35 1049.31,537.16" fill="#2a587b"/>
<polygon points="1049.31,536.93 1085.27,525.12 1085.27,526.88 1049.31,538.69" fill="#2c5b7f"/>
<polygon points="1049.31,538.47 1085.27,526.65 1085.27,528.41 1049.31,540.23" fill="#2a587a"/>
<polygon points="1049.31,540.00 1085.27,528.19 1085.27,529.95 1049.31,541.76" fill="#2a577a"/>
<polygon points="1049.31,541.53 1085.27,529.72 1085.27,531.48 1049.31,543.29" fill="#2d446f"/>
<polygon points="1049.31,543.06 1085.27,531.25 1085.27,533.01 1049.31,544.82" fill="#2a5b7d"/>
<polygon points="1049.31,544.60 1085.27,532.78 1085.27,534.54 1049.31,546.35" fill="#2b5479"/>
<polygon points="1049.31,546.13 1085.27,534.31 1085.27,536.07 1049.31,547.89" fill="#2d5980"/>
<polygon points="1049.31,547.66 1085.27,535.85 1085.27,537.61 1049.31,549.42" fill="#2d5880"/>
<polygon points="1049.31,549.19 1085.27,537.38 1085.27,539.14 1049.31,550.95" fill="#2d577e"/>
<polygon points="1049.31,550.72 1085.27,538.91 1085.27,540.67 1049.31,552.48" fill="#29687d"/>
<polygon points="1049.31,552.26 1085.27,540.44 1085.27,542.20 1049.31,554.01" fill="#29687c"/>
<polygon points="1049.31,553.79 1085.27,541.98 1085.27,543.73 1049.31,555.55" fill="#1f8071"/>
<polygon points="1049.31,555.32 1085.27,543.51 1085.27,545.27 1049.31,557.08" fill="#1e7d6f"/>
<polygon points="1049.31,556.85 1085.27,545.04 1085.27,546.80 1049.31,558.61" fill="#208374"/>
<polygon points="1049.31,558.38 1085.27,546.57 1085.27,548.33 1049.31,560.14" fill="#246971"/>
<polygon points="1049.31,559.92 1085.27,548.10 1085.27,549.86 1049.31,561.68" fill="#2a5077"/>
<polygon points="1049.31,561.45 1085.27,549.64 1085.27,551.40 1049.31,563.21" fill="#294e74"/>
<polygon points="1049.31,562.98 1085.27,551.17 1085.27,552.93 1049.31,564.74" fill="#246872"/>
<polygon points="1049.31,564.51 1085.27,552.70 1085.27,554.46 1049.31,566.27" fill="#236770"/>
<polygon points="1049.31,566.04 1085.27,554.23 1085.27,555.99 1049.31,567.80" fill="#24757d"/>
<polygon points="1049.31,567.58 1085.27,555.76 1085.27,557.52 1049.31,569.34" fill="#23727a"/>
<polygon points="1049.31,569.11 1085.27,557.30 1085.27,559.06 1049.31,570.87" fill="#23727a"/>
<polygon points="1049.31,570.64 1085.27,558.83 1085.27,560.59 1049.31,572.40" fill="#24757d"/>
<polygon points="1049.31,572.17 1085.27,560.36 1085.27,562.12 1049.31,573.93" fill="#237179"/>
<polygon points="1049.31,573.71 1085.27,561.89 1085.27,563.65 1049.31,575.46" fill="#237078"/>
<polygon points="1049.31,575.24 1085.27,563.43 1085.27,565.18 1049.31,577.00" fill="#2b4b72"/>
<polygon points="1049.31,576.77 1085.27,564.96 1085.27,566.72 1049.31,578.53" fill="#2c4e75"/>
<polygon points="1049.31,578.30 1085.27,566.49 1085.27,568.25 1049.31,580.06" fill="#2a4a70"/>
<polygon points="1085.27,522.06 1121.23,510.25 1121.23,512.00 1085.27,523.82" fill="#2a6081"/>
<polygon points="1085.27,523.59 1121.23,511.78 1121.23,513.54 1085.27,525.35" fill="#2c6285"/>
<polygon points="1085.27,525.12 1121.23,513.31 1121.23,515.07 1085.27,526.88" fill="#2a5e7f"/>
<polygon points="1085.27,526.65 1121.23,514.84 1121.23,516.60 1085.27,528.41" fill="#2b6182"/>
<polygon points="1085.27,528.19 1121.23,516.37 1121.23,518.13 1085.27,529.95" fill="#2b6182"/>
<polygon points="1085.27,529.72 1121.23,517.91 1121.23,519.66 1085.27,531.48" fill="#2a5e7f"/>
<polygon points="1085.27,531.25 1121.23,519.44 1121.23,521.20 1085.27,533.01" fill="#285c7b"/>
<polygon points="1085.27,532.78 1121.23,520.97 1121.23,522.73 1085.27,534.54" fill="#2d557d"/>
<polygon points="1085.27,534.31 1121.23,522.50 1121.23,524.26 1085.27,536.07" fill="#2e5780"/>
<polygon points="1085.27,535.85 1121.23,524.03 1121.23,525.79 1085.27,537.61" fill="#2f5882"/>
<polygon points="1085.27,537.38 1121.23,525.57 1121.23,527.33 1085.27,539.14" fill="#2e5780"/>
<polygon points="1085.27,538.91 1121.23,527.10 1121.23,528.86 1085.27,540.67" fill="#2f5982"/>
<polygon points="1085.27,540.44 1121.23,528.63 1121.23,530.39 1085.27,542.20" fill="#2e5881"/>
<polygon points="1085.27,541.98 1121.23,530.16 1121.23,531.92 1085.27,543.73" fill="#1e8371"/>
<polygon points="1085.27,543.51 1121.23,531.69 1121.23,533.45 1085.27,545.27" fill="#1f8573"/>
<polygon points="1085.27,545.04 1121.23,533.23 1121.23,534.99 1085.27,546.80" fill="#208a77"/>
<polygon points="1085.27,546.57 1121.23,534.76 1121.23,536.52 1085.27,548.33" fill="#1e8371"/>
<polygon points="1085.27,548.10 1121.23,536.29 1121.23,538.05 1085.27,549.86" fill="#285678"/>
<polygon points="1085.27,549.64 1121.23,537.82 1121.23,539.58 1085.27,551.40" fill="#2b5c80"/>
<polygon points="1085.27,551.17 1121.23,539.36 1121.23,541.11 1085.27,552.93" fill="#1e8171"/>
<polygon points="1085.27,552.70 1121.23,540.89 1121.23,542.65 1085.27,554.46" fill="#208877"/>
<polygon points="1085.27,554.23 1121.23,542.42 1121.23,544.18 1085.27,555.99" fill="#24727d"/>
<polygon points="1085.27,555.76 1121.23,543.95 1121.23,545.71 1085.27,557.52" fill="#257580"/>
<polygon points="1085.27,557.30 1121.23,545.48 1121.23,547.24 1085.27,559.06" fill="#23707b"/>
<polygon points="1085.27,558.83 1121.23,547.02 1121.23,548.78 1085.27,560.59" fill="#226d77"/>
<polygon points="1085.27,560.36 1121.23,548.55 1121.23,550.31 1085.27,562.12" fill="#257581"/>
<polygon points="1085.27,561.89 1121.23,550.08 1121.23,551.84 1085.27,563.65" fill="#236e78"/>
<polygon points="1085.27,563.43 1121.23,551.61 1121.23,553.37 1085.27,565.18" fill="#2d4d76"/>
<polygon points="1085.27,564.96 1121.23,553.14 1121.23,554.90 1085.27,566.72" fill="#2e4f79"/>
<polygon points="1085.27,566.49 1121.23,554.68 1121.23,556.44 1085.27,568.25" fill="#2c4b73"/>
<polygon points="1121.23,510.25 1157.19,498.43 1157.19,500.19 1121.23,512.00" fill="#295f7f"/>
<polygon points="1121.23,511.78 1157.19,499.96 1157.19,501.72 1121.23,513.54" fill="#2a5f80"/>
<polygon points="1121.23,513.31 1157.19,501.50 1157.19,503.26 1121.23,515.07" fill="#295f7f"/>
<polygon points="1121.23,514.84 1157.19,503.03 1157.19,504.79 1121.23,516.60" fill="#275978"/>
<polygon points="1121.23,516.37 1157.19,504.56 1157.19,506.32 1121.23,518.13" fill="#285c7b"/>
<polygon points="1121.23,517.91 1157.19,506.09 1157.19,507.85 1121.23,519.66" fill="#27637a"/>
<polygon points="1121.23,519.44 1157.19,507.63 1157.19,509.38 1121.23,521.20" fill="#28677f"/>
<polygon points="1121.23,520.97 1157.19,509.16 1157.19,510.92 1121.23,522.73" fill="#285b77"/>
<polygon points="1121.23,522.50 1157.19,510.69 1157.19,512.45 1121.23,524.26" fill="#286578"/>
<polygon points="1121.23,524.03 1157.19,512.22 1157.19,513.98 1121.23,525.79" fill="#266275"/>
<polygon points="1121.23,525.57 1157.19,513.75 1157.19,515.51 1121.23,527.33" fill="#28677a"/>
<polygon points="1121.23,527.10 1157.19,515.29 1157.19,517.05 1121.23,528.86" fill="#276375"/>
<polygon points="1121.23,528.63 1157.19,516.82 1157.19,518.58 1121.23,530.39" fill="#28677b"/>
<polygon points="1121.23,530.16 1157.19,518.35 1157.19,520.11 1121.23,531.92" fill="#1e8471"/>
<polygon points="1121.23,531.69 1157.19,519.88 1157.19,521.64 1121.23,533.45" fill="#1e8572"/>
<polygon points="1121.23,533.23 1157.19,521.41 1157.19,523.17 1121.23,534.99" fill="#1f8774"/>
<polygon points="1121.23,534.76 1157.19,522.95 1157.19,524.71 1121.23,536.52" fill="#1f8a76"/>
<polygon points="1121.23,536.29 1157.19,524.48 1157.19,526.24 1121.23,538.05" fill="#266978"/>
<polygon points="1121.23,537.82 1157.19,526.01 1157.19,527.77 1121.23,539.58" fill="#2a6282"/>
<polygon points="1121.23,539.36 1157.19,527.54 1157.19,529.30 1121.23,541.11" fill="#227c79"/>
<polygon points="1121.23,540.89 1157.19,529.08 1157.19,530.83 1121.23,542.65" fill="#227a78"/>
<polygon points="1121.23,542.42 1157.19,530.61 1157.19,532.37 1121.23,544.18" fill="#267181"/>
<polygon points="1121.23,543.95 1157.19,532.14 1157.19,533.90 1121.23,545.71" fill="#267181"/>
<polygon points="1121.23,545.48 1157.19,533.67 1157.19,535.43 1121.23,547.24" fill="#256d7c"/>
<polygon points="1121.23,547.02 1157.19,535.20 1157.19,536.96 1121.23,548.78" fill="#246c7b"/>
<polygon points="1121.23,548.55 1157.19,536.74 1157.19,538.49 1121.23,550.31" fill="#256f7e"/>
<polygon points="1121.23,550.08 1157.19,538.27 1157.19,540.03 1121.23,551.84" fill="#236978"/>
<polygon points="1121.23,551.61 1157.19,539.80 1157.19,541.56 1121.23,553.37" fill="#304371"/>
<polygon points="1121.23,553.14 1157.19,541.33 1157.19,543.09 1121.23,554.90" fill="#334778"/>
<polygon points="1121.23,554.68 1157.19,542.86 1157.19,544.62 1121.23,556.44" fill="#324575"/>
<polygon points="1157.19,498.43 1193.14,486.62 1193.14,488.38 1157.19,500.19" fill="#285d7c"/>
<polygon points="1157.19,499.96 1193.14,488.15 1193.14,489.91 1157.19,501.72" fill="#2a6181"/>
<polygon points="1157.19,501.50 1193.14,489.68 1193.14,491.44 1157.19,503.26" fill="#285d7c"/>
<polygon points="1157.19,503.03 1193.14,491.22 1193.14,492.98 1157.19,504.79" fill="#296081"/>
<polygon points="1157.19,504.56 1193.14,492.75 1193.14,494.51 1157.19,506.32" fill="#285e7e"/>
<polygon points="1157.19,506.09 1193.14,494.28 1193.14,496.04 1157.19,507.85" fill="#246977"/>
<polygon points="1157.19,507.63 1193.14,495.81 1193.14,497.57 1157.19,509.38" fill="#246977"/>
<polygon points="1157.19,509.16 1193.14,497.35 1193.14,499.10 1157.19,510.92" fill="#266879"/>
<polygon points="1157.19,510.69 1193.14,498.88 1193.14,500.64 1157.19,512.45" fill="#247a78"/>
<polygon points="1157.19,512.22 1193.14,500.41 1193.14,502.17 1157.19,513.98" fill="#247c7b"/>
<polygon points="1157.19,513.75 1193.14,501.94 1193.14,503.70 1157.19,515.51" fill="#227372"/>
<polygon points="1157.19,515.29 1193.14,503.47 1193.14,505.23 1157.19,517.05" fill="#237876"/>
<polygon points="1157.19,516.82 1193.14,505.01 1193.14,506.76 1157.19,518.58" fill="#237876"/>
<polygon points="1157.19,518.35 1193.14,506.54 1193.14,508.30 1157.19,520.11" fill="#1f8a75"/>
<polygon points="1157.19,519.88 1193.14,508.07 1193.14,509.83 1157.19,521.64" fill="#208e79"/>
<polygon points="1157.19,521.41 1193.14,509.60 1193.14,511.36 1157.19,523.17" fill="#208e79"/>
<polygon points="1157.19,522.95 1193.14,511.13 1193.14,512.89 1157.19,524.71" fill="#1f8c77"/>
<polygon points="1157.19,524.48 1193.14,512.67 1193.14,514.43 1157.19,526.24" fill="#237c79"/>
<polygon points="1157.19,526.01 1193.14,514.20 1193.14,515.96 1157.19,527.77" fill="#275f7a"/>
<polygon points="1157.19,527.54 1193.14,515.73 1193.14,517.49 1157.19,529.30" fill="#24707b"/>
<polygon points="1157.19,529.08 1193.14,517.26 1193.14,519.02 1157.19,530.83" fill="#246e78"/>
<polygon points="1157.19,530.61 1193.14,518.79 1193.14,520.55 1157.19,532.37" fill="#25687b"/>
<polygon points="1157.19,532.14 1193.14,520.33 1193.14,522.09 1157.19,533.90" fill="#25687a"/>
<polygon points="1157.19,533.67 1193.14,521.86 1193.14,523.62 1157.19,535.43" fill="#276e81"/>
<polygon points="1157.19,535.20 1193.14,523.39 1193.14,525.15 1157.19,536.96" fill="#25687b"/>
<polygon points="1157.19,536.74 1193.14,524.92 1193.14,526.68 1157.19,538.49" fill="#276c80"/>
<polygon points="1157.19,538.27 1193.14,526.46 1193.14,528.21 1157.19,540.03" fill="#25697c"/>
<polygon points="1157.19,539.80 1193.14,527.99 1193.14,529.75 1157.19,541.56" fill="#363d72"/>
<polygon points="1157.19,541.33 1193.14,529.52 1193.14,531.28 1157.19,543.09" fill="#333a6c"/>
<polygon points="1157.19,542.86 1193.14,531.05 1193.14,532.81 1157.19,544.62" fill="#33396b"/>
<polygon points="1193.14,486.62 1229.10,474.81 1229.10,476.57 1193.14,488.38" fill="#2c4c75"/>
<polygon points="1193.14,488.15 1229.10,476.34 1229.10,478.10 1193.14,489.91" fill="#28607f"/>
<polygon points="1193.14,489.68 1229.10,477.87 1229.10,479.63 1193.14,491.44" fill="#296281"/>
<polygon points="1193.14,491.22 1229.10,479.40 1229.10,481.16 1193.14,492.98" fill="#2a6484"/>
<polygon points="1193.14,492.75 1229.10,480.94 1229.10,482.70 1193.14,494.51" fill="#296181"/>
<polygon points="1193.14,494.28 1229.10,482.47 1229.10,484.23 1193.14,496.04" fill="#257a80"/>
<polygon points="1193.14,495.81 1229.10,484.00 1229.10,485.76 1193.14,497.57" fill="#23747a"/>
<polygon points="1193.14,497.35 1229.10,485.53 1229.10,487.29 1193.14,499.10" fill="#24777d"/>
<polygon points="1193.14,498.88 1229.10,487.06 1229.10,488.82 1193.14,500.64" fill="#1f8c76"/>
<polygon points="1193.14,500.41 1229.10,488.60 1229.10,490.36 1193.14,502.17" fill="#1e8a74"/>
<polygon points="1193.14,501.94 1229.10,490.13 1229.10,491.89 1193.14,503.70" fill="#208f78"/>
<polygon points="1193.14,503.47 1229.10,491.66 1229.10,493.42 1193.14,505.23" fill="#208f78"/>
<polygon points="1193.14,505.01 1229.10,493.19 1229.10,494.95 1193.14,506.76" fill="#1f8a75"/>
<polygon points="1193.14,506.54 1229.10,494.73 1229.10,496.48 1193.14,508.30" fill="#1f8b75"/>
<polygon points="1193.14,508.07 1229.10,496.26 1229.10,498.02 1193.14,509.83" fill="#209079"/>
<polygon points="1193.14,509.60 1229.10,497.79 1229.10,499.55 1193.14,511.36" fill="#20917a"/>
<polygon points="1193.14,511.13 1229.10,499.32 1229.10,501.08 1193.14,512.89" fill="#21957e"/>
<polygon points="1193.14,512.67 1229.10,500.85 1229.10,502.61 1193.14,514.43" fill="#1e8974"/>
<polygon points="1193.14,514.20 1229.10,502.39 1229.10,504.15 1193.14,515.96" fill="#2a7089"/>
<polygon points="1193.14,515.73 1229.10,503.92 1229.10,505.68 1193.14,517.49" fill="#2a6f88"/>
<polygon points="1193.14,517.26 1229.10,505.45 1229.10,507.21 1193.14,519.02" fill="#2b5275"/>
<polygon points="1193.14,518.79 1229.10,506.98 1229.10,508.74 1193.14,520.55" fill="#286980"/>
<polygon points="1193.14,520.33 1229.10,508.51 1229.10,510.27 1193.14,522.09" fill="#2b718b"/>
<polygon points="1193.14,521.86 1229.10,510.05 1229.10,511.81 1193.14,523.62" fill="#2c5478"/>
<polygon points="1193.14,523.39 1229.10,511.58 1229.10,513.34 1193.14,525.15" fill="#296c84"/>
<polygon points="1193.14,524.92 1229.10,513.11 1229.10,514.87 1193.14,526.68" fill="#286a82"/>
<polygon points="1193.14,526.46 1229.10,514.64 1229.10,516.40 1193.14,528.21" fill="#2b718a"/>
<polygon points="1193.14,527.99 1229.10,516.18 1229.10,517.93 1193.14,529.75" fill="#3b3571"/>
<polygon points="1193.14,529.52 1229.10,517.71 1229.10,519.47 1193.14,531.28" fill="#3d3775"/>
<polygon points="1193.14,531.05 1229.10,519.24 1229.10,521.00 1193.14,532.81" fill="#3c3671"/>
<polygon points="1229.10,474.81 1265.06,463.00 1265.06,464.75 1229.10,476.57" fill="#285f7e"/>
<polygon points="1229.10,476.34 1265.06,464.53 1265.06,466.29 1229.10,478.10" fill="#2a6282"/>
<polygon points="1229.10,477.87 1265.06,466.06 1265.06,467.82 1229.10,479.63" fill="#285f7e"/>
<polygon points="1229.10,479.40 1265.06,467.59 1265.06,469.35 1229.10,481.16" fill="#29607f"/>
<polygon points="1229.10,480.94 1265.06,469.12 1265.06,470.88 1229.10,482.70" fill="#25747f"/>
<polygon points="1229.10,482.47 1265.06,470.66 1265.06,472.41 1229.10,484.23" fill="#23787a"/>
<polygon points="1229.10,484.00 1265.06,472.19 1265.06,473.95 1229.10,485.76" fill="#218676"/>
<polygon points="1229.10,485.53 1265.06,473.72 1265.06,475.48 1229.10,487.29" fill="#228c7b"/>
<polygon points="1229.10,487.06 1265.06,475.25 1265.06,477.01 1229.10,488.82" fill="#208f76"/>
<polygon points="1229.10,488.60 1265.06,476.78 1265.06,478.54 1229.10,490.36" fill="#209177"/>
<polygon points="1229.10,490.13 1265.06,478.32 1265.06,480.08 1229.10,491.89" fill="#209378"/>
<polygon points="1229.10,491.66 1265.06,479.85 1265.06,481.61 1229.10,493.42" fill="#21967b"/>
<polygon points="1229.10,493.19 1265.06,481.38 1265.06,483.14 1229.10,494.95" fill="#1f8d73"/>
<polygon points="1229.10,494.73 1265.06,482.91 1265.06,484.67 1229.10,496.48" fill="#26736f"/>
<polygon points="1229.10,496.26 1265.06,484.44 1265.06,486.20 1229.10,498.02" fill="#21947a"/>
<polygon points="1229.10,497.79 1265.06,485.98 1265.06,487.74 1229.10,499.55" fill="#209177"/>
<polygon points="1229.10,499.32 1265.06,487.51 1265.06,489.27 1229.10,501.08" fill="#209177"/>
<polygon points="1229.10,500.85 1265.06,489.04 1265.06,490.80 1229.10,502.61" fill="#21957a"/>
<polygon points="1229.10,502.39 1265.06,490.57 1265.06,492.33 1229.10,504.15" fill="#23857b"/>
<polygon points="1229.10,503.92 1265.06,492.11 1265.06,493.86 1229.10,505.68" fill="#296e86"/>
<polygon points="1229.10,505.45 1265.06,493.64 1265.06,495.40 1229.10,507.21" fill="#276981"/>
<polygon points="1229.10,506.98 1265.06,495.17 1265.06,496.93 1229.10,508.74" fill="#286b83"/>
<polygon points="1229.10,508.51 1265.06,496.70 1265.06,498.46 1229.10,510.27" fill="#2a718a"/>
<polygon points="1229.10,510.05 1265.06,498.23 1265.06,499.99 1229.10,511.81" fill="#2a718b"/>
<polygon points="1229.10,511.58 1265.06,499.77 1265.06,501.53 1229.10,513.34" fill="#286c84"/>
<polygon points="1229.10,513.11 1265.06,501.30 1265.06,503.06 1229.10,514.87" fill="#276a81"/>
<polygon points="1229.10,514.64 1265.06,502.83 1265.06,504.59 1229.10,516.40" fill="#2a718a"/>
<polygon points="1229.10,516.18 1265.06,504.36 1265.06,506.12 1229.10,517.93" fill="#2e5a7d"/>
<polygon points="1229.10,517.71 1265.06,505.89 1265.06,507.65 1229.10,519.47" fill="#305e83"/>
<polygon points="1229.10,519.24 1265.06,507.43 1265.06,509.19 1229.10,521.00" fill="#3c326d"/>
<polygon points="362.81,423.89 370.12,427.17 370.12,429.34 362.81,426.06" fill="#4a0f62" opacity="0.64"/>
<polygon points="348.21,434.90 357.36,439.01 357.36,440.71 348.21,436.60" fill="#4a0f62" opacity="0.35"/>
<polygon points="755.52,588.57 764.00,592.38 764.00,594.63 755.52,590.82" fill="#4a0f62" opacity="0.76"/>
<polygon points="378.20,439.69 384.50,442.52 384.50,444.45 378.20,441.62" fill="#4a0f62" opacity="0.52"/>
<polygon points="590.65,515.57 594.01,517.08 594.01,518.42 590.65,516.91" fill="#4a0f62" opacity="0.68"/>
<polygon points="376.20,401.03 386.09,405.47 386.09,407.28 376.20,402.84" fill="#4a0f62" opacity="0.60"/>
<polygon points="400.02,411.87 405.13,414.16 405.13,416.37 400.02,414.08" fill="#4a0f62" opacity="0.60"/>
<polygon points="861.17,624.27 867.23,626.99 867.23,628.63 861.17,625.91" fill="#4a0f62" opacity="0.73"/>
<polygon points="405.79,457.32 412.38,460.28 412.38,461.23 405.79,458.27" fill="#4a0f62" opacity="0.54"/>
<polygon points="550.67,511.09 561.41,515.91 561.41,517.49 550.67,512.67" fill="#4a0f62" opacity="0.66"/>
<polygon points="556.64,519.68 559.88,521.14 559.88,523.06 556.64,521.60" fill="#4a0f62" opacity="0.42"/>
<polygon points="669.40,537.62 674.84,540.06 674.84,541.19 669.40,538.75" fill="#4a0f62" opacity="0.51"/>
<polygon points="672.58,557.08 678.40,559.70 678.40,561.39 672.58,558.77" fill="#4a0f62" opacity="0.73"/>
<polygon points="539.69,501.02 546.35,504.01 546.35,506.25 539.69,503.26" fill="#4a0f62" opacity="0.50"/>
<polygon points="733.01,567.98 737.67,570.07 737.67,571.97 733.01,569.88" fill="#4a0f62" opacity="0.61"/>
<polygon points="482.00,445.62 491.80,450.02 491.80,451.44 482.00,447.04" fill="#4a0f62" opacity="0.67"/>
<polygon points="582.13,522.00 589.52,525.32 589.52,527.55 582.13,524.24" fill="#4a0f62" opacity="0.76"/>
<polygon points="595.27,520.48 599.66,522.45 599.66,524.38 595.27,522.41" fill="#4a0f62" opacity="0.40"/>
<polygon points="510.21,502.73 512.81,503.90 512.81,505.76 510.21,504.59" fill="#4a0f62" opacity="0.61"/>
<polygon points="649.84,536.26 653.50,537.91 653.50,540.11 649.84,538.46" fill="#4a0f62" opacity="0.69"/>
<polygon points="794.76,588.00 804.19,592.24 804.19,593.44 794.76,589.21" fill="#4a0f62" opacity="0.44"/>
<polygon points="640.41,547.73 643.79,549.25 643.79,551.20 640.41,549.68" fill="#4a0f62" opacity="0.61"/>
<polygon points="848.13,658.86 856.69,662.71 856.69,664.11 848.13,660.26" fill="#4a0f62" opacity="0.78"/>
<polygon points="745.06,576.64 755.16,581.18 755.16,583.08 745.06,578.54" fill="#4a0f62" opacity="0.47"/>
<polygon points="477.52,441.12 484.70,444.34 484.70,445.59 477.52,442.37" fill="#4a0f62" opacity="0.48"/>
<polygon points="479.61,448.37 486.31,451.38 486.31,452.66 479.61,449.65" fill="#4a0f62" opacity="0.48"/>
<polygon points="493.70,476.13 503.95,480.73 503.95,481.86 493.70,477.25" fill="#4a0f62" opacity="0.74"/>
<polygon points="822.68,629.58 829.92,632.83 829.92,634.74 822.68,631.49" fill="#4a0f62" opacity="0.59"/>
<polygon points="711.65,597.29 721.00,601.49 721.00,602.75 711.65,598.55" fill="#4a0f62" opacity="0.37"/>
<polygon points="869.37,636.55 878.83,640.80 878.83,642.03 869.37,637.78" fill="#4a0f62" opacity="0.55"/>
<polygon points="546.65,512.39 557.54,517.28 557.54,518.88 546.65,513.99" fill="#4a0f62" opacity="0.60"/>
<polygon points="534.27,478.63 545.21,483.54 545.21,484.60 534.27,479.69" fill="#4a0f62" opacity="0.77"/>
<polygon points="710.05,548.48 720.56,553.20 720.56,554.25 710.05,549.53" fill="#4a0f62" opacity="0.60"/>
<polygon points="403.72,462.92 408.82,465.21 408.82,467.31 403.72,465.02" fill="#4a0f62" opacity="0.38"/>
<polygon points="715.30,550.62 717.85,551.77 717.85,553.45 715.30,552.30" fill="#4a0f62" opacity="0.79"/>
<polygon points="726.01,600.11 735.44,604.35 735.44,605.97 726.01,601.73" fill="#4a0f62" opacity="0.38"/>
<polygon points="635.87,521.56 642.95,524.74 642.95,526.13 635.87,522.95" fill="#4a0f62" opacity="0.57"/>
<polygon points="448.06,466.74 454.15,469.47 454.15,471.04 448.06,468.31" fill="#4a0f62" opacity="0.39"/>
<polygon points="613.04,532.47 624.19,537.48 624.19,539.15 613.04,534.15" fill="#4a0f62" opacity="0.41"/>
<polygon points="506.60,472.07 515.28,475.97 515.28,478.16 506.60,474.26" fill="#4a0f62" opacity="0.79"/>
<polygon points="876.95,671.88 887.06,676.43 887.06,678.61 876.95,674.07" fill="#4a0f62" opacity="0.36"/>
<polygon points="614.60,535.05 623.14,538.89 623.14,540.63 614.60,536.79" fill="#4a0f62" opacity="0.63"/>
<polygon points="867.43,620.00 874.45,623.16 874.45,625.37 867.43,622.22" fill="#4a0f62" opacity="0.36"/>
<polygon points="399.17,454.08 410.18,459.03 410.18,459.97 399.17,455.02" fill="#4a0f62" opacity="0.36"/>
<polygon points="808.43,627.67 815.45,630.82 815.45,632.52 808.43,629.37" fill="#4a0f62" opacity="0.69"/>
<polygon points="795.93,583.02 798.83,584.32 798.83,586.31 795.93,585.01" fill="#4a0f62" opacity="0.79"/>
<polygon points="810.51,612.66 815.85,615.06 815.85,616.44 810.51,614.04" fill="#4a0f62" opacity="0.36"/>
<polygon points="774.49,588.24 782.11,591.66 782.11,593.29 774.49,589.86" fill="#4a0f62" opacity="0.50"/>
<polygon points="720.17,574.77 724.59,576.75 724.59,578.86 720.17,576.88" fill="#4a0f62" opacity="0.43"/>
<polygon points="420.96,428.94 427.61,431.92 427.61,433.90 420.96,430.91" fill="#4a0f62" opacity="0.50"/>
<polygon points="471.28,474.29 475.93,476.38 475.93,478.00 471.28,475.91" fill="#4a0f62" opacity="0.46"/>
<polygon points="835.37,611.17 839.77,613.15 839.77,614.47 835.37,612.49" fill="#4a0f62" opacity="0.50"/>
<polygon points="749.55,600.41 759.04,604.67 759.04,606.31 749.55,602.05" fill="#4a0f62" opacity="0.39"/>
<polygon points="770.66,585.50 774.92,587.42 774.92,588.89 770.66,586.98" fill="#4a0f62" opacity="0.80"/>
<polygon points="546.80,491.31 557.39,496.06 557.39,498.32 546.80,493.56" fill="#4a0f62" opacity="0.52"/>
<polygon points="412.74,455.67 422.16,459.90 422.16,461.27 412.74,457.04" fill="#4a0f62" opacity="0.71"/>
<polygon points="551.78,489.61 559.47,493.06 559.47,494.98 551.78,491.52" fill="#4a0f62" opacity="0.56"/>
<polygon points="801.93,586.47 808.76,589.53 808.76,590.96 801.93,587.89" fill="#4a0f62" opacity="0.38"/>
<polygon points="856.76,618.45 860.92,620.32 860.92,622.42 856.76,620.55" fill="#4a0f62" opacity="0.78"/>
<polygon points="866.42,634.05 877.19,638.89 877.19,639.99 866.42,635.15" fill="#4a0f62" opacity="0.67"/>
<polygon points="874.47,629.20 877.99,630.78 877.99,632.61 874.47,631.03" fill="#4a0f62" opacity="0.75"/>
<polygon points="749.57,616.03 755.98,618.91 755.98,620.32 749.57,617.44" fill="#4a0f62" opacity="0.40"/>
<polygon points="491.09,499.33 494.02,500.65 494.02,501.81 491.09,500.49" fill="#4a0f62" opacity="0.51"/>
<polygon points="363.55,406.19 367.50,407.96 367.50,409.04 363.55,407.26" fill="#4a0f62" opacity="0.59"/>
<polygon points="643.46,546.71 652.69,550.86 652.69,552.48 643.46,548.34" fill="#4a0f62" opacity="0.78"/>
<polygon points="381.92,409.67 384.90,411.01 384.90,412.34 381.92,411.00" fill="#4a0f62" opacity="0.69"/>
<polygon points="862.27,641.37 866.01,643.05 866.01,644.41 862.27,642.73" fill="#4a0f62" opacity="0.61"/>
<polygon points="503.30,496.53 514.45,501.54 514.45,503.07 503.30,498.06" fill="#4a0f62" opacity="0.62"/>
<polygon points="817.70,619.15 821.72,620.96 821.72,623.15 817.70,621.35" fill="#4a0f62" opacity="0.79"/>
<polygon points="349.40,425.70 355.34,428.36 355.34,429.34 349.40,426.67" fill="#4a0f62" opacity="0.42"/>
<polygon points="434.11,462.25 438.32,464.14 438.32,465.07 434.11,463.18" fill="#4a0f62" opacity="0.45"/>
<polygon points="791.00,609.10 799.23,612.79 799.23,614.34 791.00,610.64" fill="#4a0f62" opacity="0.43"/>
<polygon points="344.13,397.32 346.79,398.51 346.79,399.77 344.13,398.58" fill="#4a0f62" opacity="0.63"/>
<polygon points="546.02,497.57 553.99,501.15 553.99,502.49 546.02,498.91" fill="#4a0f62" opacity="0.51"/>
<polygon points="839.29,635.43 845.38,638.16 845.38,639.81 839.29,637.07" fill="#4a0f62" opacity="0.56"/>
<polygon points="524.97,513.12 529.37,515.10 529.37,517.28 524.97,515.30" fill="#4a0f62" opacity="0.73"/>
<polygon points="838.21,611.20 845.13,614.31 845.13,616.56 838.21,613.45" fill="#4a0f62" opacity="0.48"/>
<polygon points="432.93,460.98 437.35,462.97 437.35,464.67 432.93,462.68" fill="#4a0f62" opacity="0.42"/>
<polygon points="875.54,634.86 878.70,636.28 878.70,638.13 875.54,636.70" fill="#4a0f62" opacity="0.51"/>
<polygon points="654.30,547.58 664.99,552.38 664.99,553.99 654.30,549.19" fill="#4a0f62" opacity="0.52"/>
<polygon points="336.42,404.76 341.15,406.88 341.15,408.57 336.42,406.45" fill="#4a0f62" opacity="0.63"/>
<polygon points="598.96,499.62 605.78,502.68 605.78,504.24 598.96,501.18" fill="#4a0f62" opacity="0.64"/>
<polygon points="888.45,640.44 894.77,643.28 894.77,644.30 888.45,641.46" fill="#4a0f62" opacity="0.71"/>
<polygon points="469.13,483.24 478.69,487.53 478.69,488.79 469.13,484.49" fill="#4a0f62" opacity="0.76"/>
<polygon points="622.73,529.37 630.07,532.67 630.07,534.87 622.73,531.57" fill="#4a0f62" opacity="0.57"/>
<polygon points="610.34,516.11 620.29,520.58 620.29,522.17 610.34,517.70" fill="#4a0f62" opacity="0.50"/>
<polygon points="447.47,438.68 457.36,443.12 457.36,445.12 447.47,440.68" fill="#4a0f62" opacity="0.79"/>
<polygon points="858.23,649.85 867.78,654.14 867.78,656.01 858.23,651.72" fill="#4a0f62" opacity="0.71"/>
<polygon points="792.21,591.31 801.92,595.67 801.92,596.99 792.21,592.63" fill="#4a0f62" opacity="0.46"/>
<polygon points="859.62,612.89 866.57,616.01 866.57,617.38 859.62,614.26" fill="#4a0f62" opacity="0.71"/>
<polygon points="1125.01,611.77 1138.66,607.29 1138.66,608.78 1125.01,613.26" fill="#2b003c" opacity="0.33"/>
<polygon points="1145.39,559.58 1159.59,554.92 1159.59,556.62 1145.39,561.28" fill="#2b003c" opacity="0.42"/>
<polygon points="972.33,649.62 984.11,645.76 984.11,647.56 972.33,651.43" fill="#2b003c" opacity="0.55"/>
<polygon points="950.53,658.63 954.75,657.24 954.75,658.94 950.53,660.33" fill="#2b003c" opacity="0.61"/>
<polygon points="1187.88,588.99 1197.61,585.79 1197.61,587.56 1187.88,590.76" fill="#2b003c" opacity="0.56"/>
<polygon points="1082.37,595.90 1089.78,593.47 1089.78,594.39 1082.37,596.83" fill="#2b003c" opacity="0.36"/>
<polygon points="1191.58,551.18 1202.23,547.68 1202.23,549.30 1191.58,552.79" fill="#2b003c" opacity="0.58"/>
<polygon points="1090.96,589.19 1097.50,587.04 1097.50,588.12 1090.96,590.27" fill="#2b003c" opacity="0.56"/>
<polygon points="1152.25,604.59 1159.41,602.24 1159.41,603.99 1152.25,606.34" fill="#2b003c" opacity="0.66"/>
<polygon points="1009.95,651.90 1020.23,648.52 1020.23,650.30 1009.95,653.68" fill="#2b003c" opacity="0.61"/>
<polygon points="1025.32,608.67 1034.55,605.64 1034.55,606.99 1025.32,610.02" fill="#2b003c" opacity="0.31"/>
<polygon points="1215.62,560.69 1224.32,557.83 1224.32,559.42 1215.62,562.28" fill="#2b003c" opacity="0.40"/>
<polygon points="977.12,641.61 983.32,639.58 983.32,640.78 977.12,642.82" fill="#2b003c" opacity="0.33"/>
<polygon points="924.24,646.19 933.52,643.14 933.52,644.91 924.24,647.96" fill="#2b003c" opacity="0.56"/>
<polygon points="1054.49,606.32 1060.63,604.31 1060.63,605.64 1054.49,607.66" fill="#2b003c" opacity="0.68"/>
<polygon points="949.33,642.36 960.32,638.74 960.32,640.34 949.33,643.96" fill="#2b003c" opacity="0.52"/>
<polygon points="1136.03,609.70 1149.36,605.32 1149.36,606.46 1136.03,610.84" fill="#2b003c" opacity="0.52"/>
<polygon points="1264.10,544.33 1265.06,544.01 1265.06,545.62 1264.10,545.93" fill="#2b003c" opacity="0.32"/>
<polygon points="959.53,645.72 966.07,643.57 966.07,645.13 959.53,647.28" fill="#2b003c" opacity="0.59"/>
<polygon points="1020.29,638.00 1030.87,634.52 1030.87,636.07 1020.29,639.54" fill="#2b003c" opacity="0.48"/>
<polygon points="1060.99,587.15 1069.70,584.29 1069.70,586.06 1060.99,588.93" fill="#2b003c" opacity="0.66"/>
<polygon points="925.65,629.60 932.15,627.46 932.15,629.00 925.65,631.14" fill="#2b003c" opacity="0.48"/>
<polygon points="951.45,641.24 961.23,638.03 961.23,639.61 951.45,642.82" fill="#2b003c" opacity="0.46"/>
<polygon points="1139.08,594.11 1149.32,590.75 1149.32,591.70 1139.08,595.06" fill="#2b003c" opacity="0.58"/>
<polygon points="951.71,620.11 960.42,617.25 960.42,618.17 951.71,621.03" fill="#2b003c" opacity="0.33"/>
<line x1="775.6" y1="615.3" x2="854.4" y2="650.2" stroke="#2c3058" stroke-width="1.2" opacity="0.8"/></g>
<polygon points="862.55,674.14 865.95,675.66 865.95,670.46 862.55,668.93" fill="#fff"/>
<polygon points="1074.08,637.94 1079.00,636.33 1079.00,632.64 1074.08,634.25" fill="#fff"/>
<g shape-rendering="crispEdges"><polygon points="684.90,231.37 720.85,219.67 694.93,208.08 658.99,219.78" fill="#3d044e" stroke="#3d044e" stroke-width="0.8"/>
<polygon points="648.96,243.08 684.90,231.37 658.99,219.78 623.04,231.48" fill="#3e0751" stroke="#3e0751" stroke-width="0.8"/>
<polygon points="613.01,254.78 648.96,243.08 623.04,231.48 587.10,243.18" fill="#3f0e58" stroke="#3f0e58" stroke-width="0.8"/>
<polygon points="577.06,266.49 613.01,254.78 587.10,243.18 551.15,254.88" fill="#40115b" stroke="#40115b" stroke-width="0.8"/>
<polygon points="541.12,278.20 577.06,266.49 551.15,254.88 515.21,266.58" fill="#3d044e" stroke="#3d044e" stroke-width="0.8"/>
<polygon points="505.17,289.90 541.12,278.20 515.21,266.58 479.26,278.29" fill="#3d014b" stroke="#3d014b" stroke-width="0.8"/>
<polygon points="469.22,301.61 505.17,289.90 479.26,278.29 443.31,289.99" fill="#3d014b" stroke="#3d014b" stroke-width="0.8"/>
<polygon points="433.28,313.31 469.22,301.61 443.31,289.99 407.37,301.69" fill="#3d014b" stroke="#3d014b" stroke-width="0.8"/>
<polygon points="397.33,325.02 433.28,313.31 407.37,301.69 371.42,313.39" fill="#3d014b" stroke="#3d014b" stroke-width="0.8"/>
<polygon points="361.39,336.73 397.33,325.02 371.42,313.39 335.48,325.09" fill="#3d014b" stroke="#3d014b" stroke-width="0.8"/>
<polygon points="710.82,242.96 746.76,231.25 720.85,219.67 684.90,231.37" fill="#3e0751" stroke="#3e0751" stroke-width="0.8"/>
<polygon points="674.87,254.68 710.82,242.96 684.90,231.37 648.96,243.08" fill="#401760" stroke="#401760" stroke-width="0.8"/>
<polygon points="638.92,266.39 674.87,254.68 648.96,243.08 613.01,254.78" fill="#3f266c" stroke="#3f266c" stroke-width="0.8"/>
<polygon points="602.98,278.10 638.92,266.39 613.01,254.78 577.06,266.49" fill="#393c78" stroke="#393c78" stroke-width="0.8"/>
<polygon points="567.03,289.81 602.98,278.10 577.06,266.49 541.12,278.20" fill="#401a63" stroke="#401a63" stroke-width="0.8"/>
<polygon points="531.08,301.52 567.03,289.81 541.12,278.20 505.17,289.90" fill="#3d044e" stroke="#3d044e" stroke-width="0.8"/>
<polygon points="495.14,313.23 531.08,301.52 505.17,289.90 469.22,301.61" fill="#3d014b" stroke="#3d014b" stroke-width="0.8"/>
<polygon points="459.19,324.94 495.14,313.23 469.22,301.61 433.28,313.31" fill="#3d014b" stroke="#3d014b" stroke-width="0.8"/>
<polygon points="423.24,336.65 459.19,324.94 433.28,313.31 397.33,325.02" fill="#3d014b" stroke="#3d014b" stroke-width="0.8"/>
<polygon points="387.30,348.36 423.24,336.65 397.33,325.02 361.39,336.73" fill="#3d014b" stroke="#3d014b" stroke-width="0.8"/>
<polygon points="736.73,254.56 772.68,242.84 746.76,231.25 710.82,242.96" fill="#3e0953" stroke="#3e0953" stroke-width="0.8"/>
<polygon points="700.78,266.27 736.73,254.56 710.82,242.96 674.87,254.68" fill="#402068" stroke="#402068" stroke-width="0.8"/>
<polygon points="664.84,277.99 700.78,266.27 674.87,254.68 638.92,266.39" fill="#3c3474" stroke="#3c3474" stroke-width="0.8"/>
<polygon points="628.89,289.71 664.84,277.99 638.92,266.39 602.98,278.10" fill="#31507d" stroke="#31507d" stroke-width="0.8"/>
<polygon points="592.94,301.42 628.89,289.71 602.98,278.10 567.03,289.81" fill="#37417a" stroke="#37417a" stroke-width="0.8"/>
<polygon points="556.99,313.14 592.94,301.42 567.03,289.81 531.08,301.52" fill="#40115b" stroke="#40115b" stroke-width="0.8"/>
<polygon points="521.05,324.85 556.99,313.14 531.08,301.52 495.14,313.23" fill="#3d014b" stroke="#3d014b" stroke-width="0.8"/>
<polygon points="485.10,336.57 521.05,324.85 495.14,313.23 459.19,324.94" fill="#3d014b" stroke="#3d014b" stroke-width="0.8"/>
<polygon points="449.15,348.29 485.10,336.57 459.19,324.94 423.24,336.65" fill="#3d014b" stroke="#3d014b" stroke-width="0.8"/>
<polygon points="413.20,360.00 449.15,348.29 423.24,336.65 387.30,348.36" fill="#3d014b" stroke="#3d014b" stroke-width="0.8"/>
<polygon points="762.64,266.15 798.59,254.43 772.68,242.84 736.73,254.56" fill="#3f0b54" stroke="#3f0b54" stroke-width="0.8"/>
<polygon points="726.70,277.87 762.64,266.15 736.73,254.56 700.78,266.27" fill="#3e2c70" stroke="#3e2c70" stroke-width="0.8"/>
<polygon points="690.75,289.59 726.70,277.87 700.78,266.27 664.84,277.99" fill="#34497c" stroke="#34497c" stroke-width="0.8"/>
<polygon points="654.80,301.31 690.75,289.59 664.84,277.99 628.89,289.71" fill="#2c5a7e" stroke="#2c5a7e" stroke-width="0.8"/>
<polygon points="618.85,313.03 654.80,301.31 628.89,289.71 592.94,301.42" fill="#2e557e" stroke="#2e557e" stroke-width="0.8"/>
<polygon points="582.91,324.76 618.85,313.03 592.94,301.42 556.99,313.14" fill="#3f296e" stroke="#3f296e" stroke-width="0.8"/>
<polygon points="546.96,336.48 582.91,324.76 556.99,313.14 521.05,324.85" fill="#401760" stroke="#401760" stroke-width="0.8"/>
<polygon points="511.01,348.20 546.96,336.48 521.05,324.85 485.10,336.57" fill="#3f0e58" stroke="#3f0e58" stroke-width="0.8"/>
<polygon points="475.06,359.92 511.01,348.20 485.10,336.57 449.15,348.29" fill="#3d044e" stroke="#3d044e" stroke-width="0.8"/>
<polygon points="439.11,371.64 475.06,359.92 449.15,348.29 413.20,360.00" fill="#3d014b" stroke="#3d014b" stroke-width="0.8"/>
<polygon points="788.56,277.74 824.51,266.02 798.59,254.43 762.64,266.15" fill="#3f0b54" stroke="#3f0b54" stroke-width="0.8"/>
<polygon points="752.61,289.47 788.56,277.74 762.64,266.15 726.70,277.87" fill="#3b3775" stroke="#3b3775" stroke-width="0.8"/>
<polygon points="716.66,301.19 752.61,289.47 726.70,277.87 690.75,289.59" fill="#31507d" stroke="#31507d" stroke-width="0.8"/>
<polygon points="680.71,312.92 716.66,301.19 690.75,289.59 654.80,301.31" fill="#2c5a7e" stroke="#2c5a7e" stroke-width="0.8"/>
<polygon points="644.77,324.65 680.71,312.92 654.80,301.31 618.85,313.03" fill="#2c5a7e" stroke="#2c5a7e" stroke-width="0.8"/>
<polygon points="608.82,336.37 644.77,324.65 618.85,313.03 582.91,324.76" fill="#2e557e" stroke="#2e557e" stroke-width="0.8"/>
<polygon points="572.87,348.10 608.82,336.37 582.91,324.76 546.96,336.48" fill="#393c78" stroke="#393c78" stroke-width="0.8"/>
<polygon points="536.92,359.83 572.87,348.10 546.96,336.48 511.01,348.20" fill="#3e2f71" stroke="#3e2f71" stroke-width="0.8"/>
<polygon points="500.97,371.55 536.92,359.83 511.01,348.20 475.06,359.92" fill="#40145e" stroke="#40145e" stroke-width="0.8"/>
<polygon points="465.02,383.28 500.97,371.55 475.06,359.92 439.11,371.64" fill="#3d014b" stroke="#3d014b" stroke-width="0.8"/>
<polygon points="814.47,289.33 850.42,277.60 824.51,266.02 788.56,277.74" fill="#3f0b54" stroke="#3f0b54" stroke-width="0.8"/>
<polygon points="778.52,301.06 814.47,289.33 788.56,277.74 752.61,289.47" fill="#36447a" stroke="#36447a" stroke-width="0.8"/>
<polygon points="742.58,312.80 778.52,301.06 752.61,289.47 716.66,301.19" fill="#2e557e" stroke="#2e557e" stroke-width="0.8"/>
<polygon points="706.63,324.53 742.58,312.80 716.66,301.19 680.71,312.92" fill="#2a607e" stroke="#2a607e" stroke-width="0.8"/>
<polygon points="670.68,336.26 706.63,324.53 680.71,312.92 644.77,324.65" fill="#29627e" stroke="#29627e" stroke-width="0.8"/>
<polygon points="634.73,347.99 670.68,336.26 644.77,324.65 608.82,336.37" fill="#2a607e" stroke="#2a607e" stroke-width="0.8"/>
<polygon points="598.78,359.72 634.73,347.99 608.82,336.37 572.87,348.10" fill="#31507d" stroke="#31507d" stroke-width="0.8"/>
<polygon points="562.83,371.45 598.78,359.72 572.87,348.10 536.92,359.83" fill="#36447a" stroke="#36447a" stroke-width="0.8"/>
<polygon points="526.88,383.18 562.83,371.45 536.92,359.83 500.97,371.55" fill="#3f296e" stroke="#3f296e" stroke-width="0.8"/>
<polygon points="490.93,394.92 526.88,383.18 500.97,371.55 465.02,383.28" fill="#3f0b54" stroke="#3f0b54" stroke-width="0.8"/>
<polygon points="840.39,300.93 876.34,289.19 850.42,277.60 814.47,289.33" fill="#3f0c56" stroke="#3f0c56" stroke-width="0.8"/>
<polygon points="804.44,312.66 840.39,300.93 814.47,289.33 778.52,301.06" fill="#334b7c" stroke="#334b7c" stroke-width="0.8"/>
<polygon points="768.49,324.40 804.44,312.66 778.52,301.06 742.58,312.80" fill="#2c5a7e" stroke="#2c5a7e" stroke-width="0.8"/>
<polygon points="732.54,336.13 768.49,324.40 742.58,312.80 706.63,324.53" fill="#27667e" stroke="#27667e" stroke-width="0.8"/>
<polygon points="696.59,347.87 732.54,336.13 706.63,324.53 670.68,336.26" fill="#256b7e" stroke="#256b7e" stroke-width="0.8"/>
<polygon points="660.64,359.61 696.59,347.87 670.68,336.26 634.73,347.99" fill="#256b7e" stroke="#256b7e" stroke-width="0.8"/>
<polygon points="624.69,371.34 660.64,359.61 634.73,347.99 598.78,359.72" fill="#30527e" stroke="#30527e" stroke-width="0.8"/>
<polygon points="588.74,383.08 624.69,371.34 598.78,359.72 562.83,371.45" fill="#36457b" stroke="#36457b" stroke-width="0.8"/>
<polygon points="552.79,394.82 588.74,383.08 562.83,371.45 526.88,383.18" fill="#3e2f71" stroke="#3e2f71" stroke-width="0.8"/>
<polygon points="516.84,406.55 552.79,394.82 526.88,383.18 490.93,394.92" fill="#400f59" stroke="#400f59" stroke-width="0.8"/>
<polygon points="866.30,312.52 902.25,300.78 876.34,289.19 840.39,300.93" fill="#40145e" stroke="#40145e" stroke-width="0.8"/>
<polygon points="830.35,324.26 866.30,312.52 840.39,300.93 804.44,312.66" fill="#2e557e" stroke="#2e557e" stroke-width="0.8"/>
<polygon points="794.40,336.00 830.35,324.26 804.44,312.66 768.49,324.40" fill="#2a607e" stroke="#2a607e" stroke-width="0.8"/>
<polygon points="758.45,347.74 794.40,336.00 768.49,324.40 732.54,336.13" fill="#246f7e" stroke="#246f7e" stroke-width="0.8"/>
<polygon points="722.50,359.48 758.45,347.74 732.54,336.13 696.59,347.87" fill="#246f7e" stroke="#246f7e" stroke-width="0.8"/>
<polygon points="686.55,371.23 722.50,359.48 696.59,347.87 660.64,359.61" fill="#256d7e" stroke="#256d7e" stroke-width="0.8"/>
<polygon points="650.60,382.97 686.55,371.23 660.64,359.61 624.69,371.34" fill="#31507d" stroke="#31507d" stroke-width="0.8"/>
<polygon points="614.65,394.71 650.60,382.97 624.69,371.34 588.74,383.08" fill="#37417a" stroke="#37417a" stroke-width="0.8"/>
<polygon points="578.70,406.45 614.65,394.71 588.74,383.08 552.79,394.82" fill="#3c3474" stroke="#3c3474" stroke-width="0.8"/>
<polygon points="542.75,418.19 578.70,406.45 552.79,394.82 516.84,406.55" fill="#3f0e58" stroke="#3f0e58" stroke-width="0.8"/>
<polygon points="892.22,324.11 928.17,312.36 902.25,300.78 866.30,312.52" fill="#401760" stroke="#401760" stroke-width="0.8"/>
<polygon points="856.27,335.86 892.22,324.11 866.30,312.52 830.35,324.26" fill="#2d587e" stroke="#2d587e" stroke-width="0.8"/>
<polygon points="820.31,347.60 856.27,335.86 830.35,324.26 794.40,336.00" fill="#256b7e" stroke="#256b7e" stroke-width="0.8"/>
<polygon points="784.36,359.35 820.31,347.60 794.40,336.00 758.45,347.74" fill="#23717e" stroke="#23717e" stroke-width="0.8"/>
<polygon points="748.41,371.10 784.36,359.35 758.45,347.74 722.50,359.48" fill="#21767e" stroke="#21767e" stroke-width="0.8"/>
<polygon points="712.46,382.84 748.41,371.10 722.50,359.48 686.55,371.23" fill="#21767e" stroke="#21767e" stroke-width="0.8"/>
<polygon points="676.51,394.59 712.46,382.84 686.55,371.23 650.60,382.97" fill="#37417a" stroke="#37417a" stroke-width="0.8"/>
<polygon points="640.56,406.34 676.51,394.59 650.60,382.97 614.65,394.71" fill="#40256c" stroke="#40256c" stroke-width="0.8"/>
<polygon points="604.61,418.08 640.56,406.34 614.65,394.71 578.70,406.45" fill="#40145e" stroke="#40145e" stroke-width="0.8"/>
<polygon points="568.66,429.83 604.61,418.08 578.70,406.45 542.75,418.19" fill="#3e0751" stroke="#3e0751" stroke-width="0.8"/>
<polygon points="918.13,335.70 954.08,323.95 928.17,312.36 892.22,324.11" fill="#401a63" stroke="#401a63" stroke-width="0.8"/>
<polygon points="882.18,347.45 918.13,335.70 892.22,324.11 856.27,335.86" fill="#2c5a7e" stroke="#2c5a7e" stroke-width="0.8"/>
<polygon points="846.23,359.21 882.18,347.45 856.27,335.86 820.31,347.60" fill="#256b7e" stroke="#256b7e" stroke-width="0.8"/>
<polygon points="810.28,370.96 846.23,359.21 820.31,347.60 784.36,359.35" fill="#256b7e" stroke="#256b7e" stroke-width="0.8"/>
<polygon points="774.33,382.71 810.28,370.96 784.36,359.35 748.41,371.10" fill="#2c5a7e" stroke="#2c5a7e" stroke-width="0.8"/>
<polygon points="738.37,394.46 774.33,382.71 748.41,371.10 712.46,382.84" fill="#21767e" stroke="#21767e" stroke-width="0.8"/>
<polygon points="702.42,406.21 738.37,394.46 712.46,382.84 676.51,394.59" fill="#37437a" stroke="#37437a" stroke-width="0.8"/>
<polygon points="666.47,417.96 702.42,406.21 676.51,394.59 640.56,406.34" fill="#37417a" stroke="#37417a" stroke-width="0.8"/>
<polygon points="630.52,429.72 666.47,417.96 640.56,406.34 604.61,418.08" fill="#402068" stroke="#402068" stroke-width="0.8"/>
<polygon points="594.57,441.47 630.52,429.72 604.61,418.08 568.66,429.83" fill="#3e0751" stroke="#3e0751" stroke-width="0.8"/>
<polygon points="944.04,347.29 980.00,335.54 954.08,323.95 918.13,335.70" fill="#393c78" stroke="#393c78" stroke-width="0.8"/>
<polygon points="908.09,359.05 944.04,347.29 918.13,335.70 882.18,347.45" fill="#2a607e" stroke="#2a607e" stroke-width="0.8"/>
<polygon points="872.14,370.81 908.09,359.05 882.18,347.45 846.23,359.21" fill="#256d7e" stroke="#256d7e" stroke-width="0.8"/>
<polygon points="836.19,382.56 872.14,370.81 846.23,359.21 810.28,370.96" fill="#393c78" stroke="#393c78" stroke-width="0.8"/>
<polygon points="800.24,394.32 836.19,382.56 810.28,370.96 774.33,382.71" fill="#2c5a7e" stroke="#2c5a7e" stroke-width="0.8"/>
<polygon points="764.29,406.08 800.24,394.32 774.33,382.71 738.37,394.46" fill="#1d827c" stroke="#1d827c" stroke-width="0.8"/>
<polygon points="728.33,417.83 764.29,406.08 738.37,394.46 702.42,406.21" fill="#28647e" stroke="#28647e" stroke-width="0.8"/>
<polygon points="692.38,429.59 728.33,417.83 702.42,406.21 666.47,417.96" fill="#2e557e" stroke="#2e557e" stroke-width="0.8"/>
<polygon points="656.43,441.35 692.38,429.59 666.47,417.96 630.52,429.72" fill="#393c78" stroke="#393c78" stroke-width="0.8"/>
<polygon points="620.48,453.10 656.43,441.35 630.52,429.72 594.57,441.47" fill="#3f0e58" stroke="#3f0e58" stroke-width="0.8"/>
<polygon points="969.96,358.89 1005.91,347.12 980.00,335.54 944.04,347.29" fill="#40145e" stroke="#40145e" stroke-width="0.8"/>
<polygon points="934.01,370.65 969.96,358.89 944.04,347.29 908.09,359.05" fill="#36447a" stroke="#36447a" stroke-width="0.8"/>
<polygon points="898.05,382.41 934.01,370.65 908.09,359.05 872.14,370.81" fill="#26687e" stroke="#26687e" stroke-width="0.8"/>
<polygon points="862.10,394.17 898.05,382.41 872.14,370.81 836.19,382.56" fill="#1c867b" stroke="#1c867b" stroke-width="0.8"/>
<polygon points="826.15,405.93 862.10,394.17 836.19,382.56 800.24,394.32" fill="#219774" stroke="#219774" stroke-width="0.8"/>
<polygon points="790.20,417.70 826.15,405.93 800.24,394.32 764.29,406.08" fill="#83c03a" stroke="#83c03a" stroke-width="0.8"/>
<polygon points="754.24,429.46 790.20,417.70 764.29,406.08 728.33,417.83" fill="#239972" stroke="#239972" stroke-width="0.8"/>
<polygon points="718.29,441.22 754.24,429.46 728.33,417.83 692.38,429.59" fill="#1d807d" stroke="#1d807d" stroke-width="0.8"/>
<polygon points="682.34,452.98 718.29,441.22 692.38,429.59 656.43,441.35" fill="#256b7e" stroke="#256b7e" stroke-width="0.8"/>
<polygon points="646.39,464.74 682.34,452.98 656.43,441.35 620.48,453.10" fill="#3f266c" stroke="#3f266c" stroke-width="0.8"/>
<polygon points="995.87,370.48 1031.83,358.71 1005.91,347.12 969.96,358.89" fill="#3f296e" stroke="#3f296e" stroke-width="0.8"/>
<polygon points="959.92,382.25 995.87,370.48 969.96,358.89 934.01,370.65" fill="#27667e" stroke="#27667e" stroke-width="0.8"/>
<polygon points="923.97,394.01 959.92,382.25 934.01,370.65 898.05,382.41" fill="#20787e" stroke="#20787e" stroke-width="0.8"/>
<polygon points="888.01,405.78 923.97,394.01 898.05,382.41 862.10,394.17" fill="#1c897b" stroke="#1c897b" stroke-width="0.8"/>
<polygon points="852.06,417.55 888.01,405.78 862.10,394.17 826.15,405.93" fill="#209575" stroke="#209575" stroke-width="0.8"/>
<polygon points="816.11,429.31 852.06,417.55 826.15,405.93 790.20,417.70" fill="#4aaf5d" stroke="#4aaf5d" stroke-width="0.8"/>
<polygon points="780.16,441.08 816.11,429.31 790.20,417.70 754.24,429.46" fill="#1c8b7a" stroke="#1c8b7a" stroke-width="0.8"/>
<polygon points="744.20,452.85 780.16,441.08 754.24,429.46 718.29,441.22" fill="#21767e" stroke="#21767e" stroke-width="0.8"/>
<polygon points="708.25,464.61 744.20,452.85 718.29,441.22 682.34,452.98" fill="#2c5a7e" stroke="#2c5a7e" stroke-width="0.8"/>
<polygon points="672.30,476.38 708.25,464.61 682.34,452.98 646.39,464.74" fill="#401760" stroke="#401760" stroke-width="0.8"/>
<polygon points="1021.79,382.07 1057.74,370.30 1031.83,358.71 995.87,370.48" fill="#34497c" stroke="#34497c" stroke-width="0.8"/>
<polygon points="985.83,393.84 1021.79,382.07 995.87,370.48 959.92,382.25" fill="#256b7e" stroke="#256b7e" stroke-width="0.8"/>
<polygon points="949.88,405.61 985.83,393.84 959.92,382.25 923.97,394.01" fill="#23717e" stroke="#23717e" stroke-width="0.8"/>
<polygon points="913.93,417.39 949.88,405.61 923.97,394.01 888.01,405.78" fill="#1f7a7e" stroke="#1f7a7e" stroke-width="0.8"/>
<polygon points="877.97,429.16 913.93,417.39 888.01,405.78 852.06,417.55" fill="#1c867b" stroke="#1c867b" stroke-width="0.8"/>
<polygon points="842.02,440.93 877.97,429.16 852.06,417.55 816.11,429.31" fill="#239972" stroke="#239972" stroke-width="0.8"/>
<polygon points="806.07,452.70 842.02,440.93 816.11,429.31 780.16,441.08" fill="#23717e" stroke="#23717e" stroke-width="0.8"/>
<polygon points="770.11,464.47 806.07,452.70 780.16,441.08 744.20,452.85" fill="#28647e" stroke="#28647e" stroke-width="0.8"/>
<polygon points="734.16,476.25 770.11,464.47 744.20,452.85 708.25,464.61" fill="#3c3474" stroke="#3c3474" stroke-width="0.8"/>
<polygon points="698.21,488.02 734.16,476.25 708.25,464.61 672.30,476.38" fill="#3e0751" stroke="#3e0751" stroke-width="0.8"/>
<polygon points="1047.70,393.66 1083.66,381.89 1057.74,370.30 1021.79,382.07" fill="#31507d" stroke="#31507d" stroke-width="0.8"/>
<polygon points="1011.75,405.44 1047.70,393.66 1021.79,382.07 985.83,393.84" fill="#26687e" stroke="#26687e" stroke-width="0.8"/>
<polygon points="975.79,417.22 1011.75,405.44 985.83,393.84 949.88,405.61" fill="#27667e" stroke="#27667e" stroke-width="0.8"/>
<polygon points="939.84,428.99 975.79,417.22 949.88,405.61 913.93,417.39" fill="#2c5a7e" stroke="#2c5a7e" stroke-width="0.8"/>
<polygon points="903.89,440.77 939.84,428.99 913.93,417.39 877.97,429.16" fill="#256b7e" stroke="#256b7e" stroke-width="0.8"/>
<polygon points="867.93,452.55 903.89,440.77 877.97,429.16 842.02,440.93" fill="#1d807d" stroke="#1d807d" stroke-width="0.8"/>
<polygon points="831.98,464.32 867.93,452.55 842.02,440.93 806.07,452.70" fill="#27667e" stroke="#27667e" stroke-width="0.8"/>
<polygon points="796.02,476.10 831.98,464.32 806.07,452.70 770.11,464.47" fill="#31507d" stroke="#31507d" stroke-width="0.8"/>
<polygon points="760.07,487.88 796.02,476.10 770.11,464.47 734.16,476.25" fill="#40236b" stroke="#40236b" stroke-width="0.8"/>
<polygon points="724.12,499.66 760.07,487.88 734.16,476.25 698.21,488.02" fill="#3e0751" stroke="#3e0751" stroke-width="0.8"/>
<polygon points="1073.62,405.25 1109.57,393.47 1083.66,381.89 1047.70,393.66" fill="#30527e" stroke="#30527e" stroke-width="0.8"/>
<polygon points="1037.66,417.04 1073.62,405.25 1047.70,393.66 1011.75,405.44" fill="#28647e" stroke="#28647e" stroke-width="0.8"/>
<polygon points="1001.71,428.82 1037.66,417.04 1011.75,405.44 975.79,417.22" fill="#2e557e" stroke="#2e557e" stroke-width="0.8"/>
<polygon points="965.75,440.60 1001.71,428.82 975.79,417.22 939.84,428.99" fill="#3f296e" stroke="#3f296e" stroke-width="0.8"/>
<polygon points="929.80,452.38 965.75,440.60 939.84,428.99 903.89,440.77" fill="#2e557e" stroke="#2e557e" stroke-width="0.8"/>
<polygon points="893.84,464.17 929.80,452.38 903.89,440.77 867.93,452.55" fill="#246f7e" stroke="#246f7e" stroke-width="0.8"/>
<polygon points="857.89,475.95 893.84,464.17 867.93,452.55 831.98,464.32" fill="#2e557e" stroke="#2e557e" stroke-width="0.8"/>
<polygon points="821.93,487.73 857.89,475.95 831.98,464.32 796.02,476.10" fill="#36447a" stroke="#36447a" stroke-width="0.8"/>
<polygon points="785.98,499.51 821.93,487.73 796.02,476.10 760.07,487.88" fill="#401a63" stroke="#401a63" stroke-width="0.8"/>
<polygon points="750.02,511.29 785.98,499.51 760.07,487.88 724.12,499.66" fill="#3e0751" stroke="#3e0751" stroke-width="0.8"/>
<polygon points="1099.53,416.85 1135.49,405.06 1109.57,393.47 1073.62,405.25" fill="#2e557e" stroke="#2e557e" stroke-width="0.8"/>
<polygon points="1063.57,428.63 1099.53,416.85 1073.62,405.25 1037.66,417.04" fill="#2e557e" stroke="#2e557e" stroke-width="0.8"/>
<polygon points="1027.62,440.42 1063.57,428.63 1037.66,417.04 1001.71,428.82" fill="#3f296e" stroke="#3f296e" stroke-width="0.8"/>
<polygon points="991.66,452.21 1027.62,440.42 1001.71,428.82 965.75,440.60" fill="#3e0751" stroke="#3e0751" stroke-width="0.8"/>
<polygon points="955.71,464.00 991.66,452.21 965.75,440.60 929.80,452.38" fill="#3f296e" stroke="#3f296e" stroke-width="0.8"/>
<polygon points="919.75,475.78 955.71,464.00 929.80,452.38 893.84,464.17" fill="#2b5c7e" stroke="#2b5c7e" stroke-width="0.8"/>
<polygon points="883.80,487.57 919.75,475.78 893.84,464.17 857.89,475.95" fill="#3c3675" stroke="#3c3675" stroke-width="0.8"/>
<polygon points="847.84,499.36 883.80,487.57 857.89,475.95 821.93,487.73" fill="#3f276d" stroke="#3f276d" stroke-width="0.8"/>
<polygon points="811.89,511.14 847.84,499.36 821.93,487.73 785.98,499.51" fill="#3f0b54" stroke="#3f0b54" stroke-width="0.8"/>
<polygon points="775.93,522.93 811.89,511.14 785.98,499.51 750.02,511.29" fill="#3e0751" stroke="#3e0751" stroke-width="0.8"/>
<polygon points="1125.44,428.44 1161.40,416.65 1135.49,405.06 1099.53,416.85" fill="#34497c" stroke="#34497c" stroke-width="0.8"/>
<polygon points="1089.49,440.23 1125.44,428.44 1099.53,416.85 1063.57,428.63" fill="#3c3474" stroke="#3c3474" stroke-width="0.8"/>
<polygon points="1053.53,452.02 1089.49,440.23 1063.57,428.63 1027.62,440.42" fill="#3e0751" stroke="#3e0751" stroke-width="0.8"/>
<polygon points="1017.58,463.82 1053.53,452.02 1027.62,440.42 991.66,452.21" fill="#3e0751" stroke="#3e0751" stroke-width="0.8"/>
<polygon points="981.62,475.61 1017.58,463.82 991.66,452.21 955.71,464.00" fill="#3e0751" stroke="#3e0751" stroke-width="0.8"/>
<polygon points="945.67,487.40 981.62,475.61 955.71,464.00 919.75,475.78" fill="#3f0b54" stroke="#3f0b54" stroke-width="0.8"/>
<polygon points="909.71,499.19 945.67,487.40 919.75,475.78 883.80,487.57" fill="#3f0c56" stroke="#3f0c56" stroke-width="0.8"/>
<polygon points="873.75,510.98 909.71,499.19 883.80,487.57 847.84,499.36" fill="#402068" stroke="#402068" stroke-width="0.8"/>
<polygon points="837.80,522.78 873.75,510.98 847.84,499.36 811.89,511.14" fill="#40115b" stroke="#40115b" stroke-width="0.8"/>
<polygon points="801.84,534.57 837.80,522.78 811.89,511.14 775.93,522.93" fill="#40115b" stroke="#40115b" stroke-width="0.8"/>
<polygon points="1151.36,440.03 1187.31,428.23 1161.40,416.65 1125.44,428.44" fill="#393c78" stroke="#393c78" stroke-width="0.8"/>
<polygon points="1115.40,451.83 1151.36,440.03 1125.44,428.44 1089.49,440.23" fill="#402068" stroke="#402068" stroke-width="0.8"/>
<polygon points="1079.45,463.63 1115.40,451.83 1089.49,440.23 1053.53,452.02" fill="#401a63" stroke="#401a63" stroke-width="0.8"/>
<polygon points="1043.49,475.42 1079.45,463.63 1053.53,452.02 1017.58,463.82" fill="#3e0751" stroke="#3e0751" stroke-width="0.8"/>
<polygon points="1007.53,487.22 1043.49,475.42 1017.58,463.82 981.62,475.61" fill="#3f0b54" stroke="#3f0b54" stroke-width="0.8"/>
<polygon points="971.58,499.02 1007.53,487.22 981.62,475.61 945.67,487.40" fill="#3e2f71" stroke="#3e2f71" stroke-width="0.8"/>
<polygon points="935.62,510.81 971.58,499.02 945.67,487.40 909.71,499.19" fill="#40145e" stroke="#40145e" stroke-width="0.8"/>
<polygon points="899.66,522.61 935.62,510.81 909.71,499.19 873.75,510.98" fill="#40115b" stroke="#40115b" stroke-width="0.8"/>
<polygon points="863.71,534.41 899.66,522.61 873.75,510.98 837.80,522.78" fill="#40145e" stroke="#40145e" stroke-width="0.8"/>
<polygon points="827.75,546.21 863.71,534.41 837.80,522.78 801.84,534.57" fill="#40145e" stroke="#40145e" stroke-width="0.8"/>
<polygon points="1177.27,451.62 1213.23,439.82 1187.31,428.23 1151.36,440.03" fill="#37417a" stroke="#37417a" stroke-width="0.8"/>
<polygon points="1141.32,463.43 1177.27,451.62 1151.36,440.03 1115.40,451.83" fill="#393c78" stroke="#393c78" stroke-width="0.8"/>
<polygon points="1105.36,475.23 1141.32,463.43 1115.40,451.83 1079.45,463.63" fill="#37417a" stroke="#37417a" stroke-width="0.8"/>
<polygon points="1069.40,487.03 1105.36,475.23 1079.45,463.63 1043.49,475.42" fill="#401a63" stroke="#401a63" stroke-width="0.8"/>
<polygon points="1033.45,498.83 1069.40,487.03 1043.49,475.42 1007.53,487.22" fill="#3b3775" stroke="#3b3775" stroke-width="0.8"/>
<polygon points="997.49,510.64 1033.45,498.83 1007.53,487.22 971.58,499.02" fill="#40236b" stroke="#40236b" stroke-width="0.8"/>
<polygon points="961.53,522.44 997.49,510.64 971.58,499.02 935.62,510.81" fill="#3d3273" stroke="#3d3273" stroke-width="0.8"/>
<polygon points="925.57,534.24 961.53,522.44 935.62,510.81 899.66,522.61" fill="#3f266c" stroke="#3f266c" stroke-width="0.8"/>
<polygon points="889.62,546.04 925.57,534.24 899.66,522.61 863.71,534.41" fill="#3f296e" stroke="#3f296e" stroke-width="0.8"/>
<polygon points="853.66,557.84 889.62,546.04 863.71,534.41 827.75,546.21" fill="#393c78" stroke="#393c78" stroke-width="0.8"/>
<polygon points="1203.19,463.22 1239.14,451.41 1213.23,439.82 1177.27,451.62" fill="#27667e" stroke="#27667e" stroke-width="0.8"/>
<polygon points="1167.23,475.02 1203.19,463.22 1177.27,451.62 1141.32,463.43" fill="#26687e" stroke="#26687e" stroke-width="0.8"/>
<polygon points="1131.27,486.83 1167.23,475.02 1141.32,463.43 1105.36,475.23" fill="#256b7e" stroke="#256b7e" stroke-width="0.8"/>
<polygon points="1095.31,498.64 1131.27,486.83 1105.36,475.23 1069.40,487.03" fill="#27667e" stroke="#27667e" stroke-width="0.8"/>
<polygon points="1059.36,510.45 1095.31,498.64 1069.40,487.03 1033.45,498.83" fill="#2e557e" stroke="#2e557e" stroke-width="0.8"/>
<polygon points="1023.40,522.25 1059.36,510.45 1033.45,498.83 997.49,510.64" fill="#36447a" stroke="#36447a" stroke-width="0.8"/>
<polygon points="987.44,534.06 1023.40,522.25 997.49,510.64 961.53,522.44" fill="#37417a" stroke="#37417a" stroke-width="0.8"/>
<polygon points="951.49,545.87 987.44,534.06 961.53,522.44 925.57,534.24" fill="#36447a" stroke="#36447a" stroke-width="0.8"/>
<polygon points="915.53,557.67 951.49,545.87 925.57,534.24 889.62,546.04" fill="#31507d" stroke="#31507d" stroke-width="0.8"/>
<polygon points="879.57,569.48 915.53,557.67 889.62,546.04 853.66,557.84" fill="#31507d" stroke="#31507d" stroke-width="0.8"/>
<polygon points="1229.10,474.81 1265.06,463.00 1239.14,451.41 1203.19,463.22" fill="#27667e" stroke="#27667e" stroke-width="0.8"/>
<polygon points="1193.14,486.62 1229.10,474.81 1203.19,463.22 1167.23,475.02" fill="#27667e" stroke="#27667e" stroke-width="0.8"/>
<polygon points="1157.19,498.43 1193.14,486.62 1167.23,475.02 1131.27,486.83" fill="#256b7e" stroke="#256b7e" stroke-width="0.8"/>
<polygon points="1121.23,510.25 1157.19,498.43 1131.27,486.83 1095.31,498.64" fill="#29627e" stroke="#29627e" stroke-width="0.8"/>
<polygon points="1085.27,522.06 1121.23,510.25 1095.31,498.64 1059.36,510.45" fill="#2b5c7e" stroke="#2b5c7e" stroke-width="0.8"/>
<polygon points="1049.31,533.87 1085.27,522.06 1059.36,510.45 1023.40,522.25" fill="#324d7d" stroke="#324d7d" stroke-width="0.8"/>
<polygon points="1013.35,545.68 1049.31,533.87 1023.40,522.25 987.44,534.06" fill="#35467b" stroke="#35467b" stroke-width="0.8"/>
<polygon points="977.40,557.50 1013.35,545.68 987.44,534.06 951.49,545.87" fill="#35467b" stroke="#35467b" stroke-width="0.8"/>
<polygon points="941.44,569.31 977.40,557.50 951.49,545.87 915.53,557.67" fill="#2e557e" stroke="#2e557e" stroke-width="0.8"/>
<polygon points="905.48,581.12 941.44,569.31 915.53,557.67 879.57,569.48" fill="#2e557e" stroke="#2e557e" stroke-width="0.8"/></g>
<path d="M1051.0 470.0 l14.0 -2.8 l1.5 1.2" fill="none" stroke="#240532" stroke-width="0.8" opacity="0.55"/>
<path d="M1058.0 472.5 l8.0 -1.6 l1.5 1.2" fill="none" stroke="#240532" stroke-width="0.8" opacity="0.55"/>
<path d="M1093.0 448.0 l12.0 -2.4 l1.5 1.2" fill="none" stroke="#240532" stroke-width="0.8" opacity="0.55"/>
<path d="M1101.0 451.0 l9.0 -1.8 l1.5 1.2" fill="none" stroke="#240532" stroke-width="0.8" opacity="0.55"/>
<path d="M1120.0 445.0 l7.0 -1.4 l1.5 1.2" fill="none" stroke="#240532" stroke-width="0.8" opacity="0.55"/>
<path d="M1141.0 452.0 l8.0 -1.6 l1.5 1.2" fill="none" stroke="#240532" stroke-width="0.8" opacity="0.55"/>
<path d="M497.0 293.0 l10.0 -2.0 l1.5 1.2" fill="none" stroke="#240532" stroke-width="0.8" opacity="0.55"/>
<path d="M503.0 300.0 l12.0 -2.4 l1.5 1.2" fill="none" stroke="#240532" stroke-width="0.8" opacity="0.55"/>
<path d="M492.0 306.0 l8.0 -1.6 l1.5 1.2" fill="none" stroke="#240532" stroke-width="0.8" opacity="0.55"/>
<path d="M1045.0 497.0 l5.0 -1.0 l1.5 1.2" fill="none" stroke="#240532" stroke-width="0.8" opacity="0.55"/>
<path d="M1180.0 432.0 l5.0 -1.0 l1.5 1.2" fill="none" stroke="#240532" stroke-width="0.8" opacity="0.55"/>
<path d="M965.0 507.0 l6.0 -1.2 l1.5 1.2" fill="none" stroke="#240532" stroke-width="0.8" opacity="0.55"/>
<line x1="690.2" y1="192.6" x2="690.2" y2="219.6" stroke="#8f0b0b" stroke-width="3.3"/>
<line x1="366.7" y1="295.4" x2="366.7" y2="324.6" stroke="#8f0b0b" stroke-width="3.3"/>
<line x1="795.0" y1="374.0" x2="795.0" y2="404.9" stroke="#8f0b0b" stroke-width="3.3"/>
<line x1="1234.4" y1="429.8" x2="1234.4" y2="462.4" stroke="#8f0b0b" stroke-width="3.3"/>
<line x1="910.4" y1="543.6" x2="910.4" y2="569.0" stroke="#8f0b0b" stroke-width="3.3"/>
<text x="690.2" y="192.2" text-anchor="middle" font-size="18.3" fill="#fff" stroke="#fff" stroke-width="6" stroke-linejoin="round" filter="url(#gl)">P3</text>
<text x="690.2" y="192.2" text-anchor="middle" font-size="18.3" fill="#fff" stroke="#fff" stroke-width="2.6" stroke-linejoin="round" stroke-opacity="0.9">P3</text>
<text x="366.3" y="295.1" text-anchor="middle" font-size="18.3" fill="#fff" stroke="#fff" stroke-width="6" stroke-linejoin="round" filter="url(#gl)">P4</text>
<text x="366.3" y="295.1" text-anchor="middle" font-size="18.3" fill="#fff" stroke="#fff" stroke-width="2.6" stroke-linejoin="round" stroke-opacity="0.9">P4</text>
<text x="794.0" y="373.8" text-anchor="middle" font-size="18.3" fill="#fff" stroke="#fff" stroke-width="6" stroke-linejoin="round" filter="url(#gl)">I1</text>
<text x="794.0" y="373.8" text-anchor="middle" font-size="18.3" fill="#fff" stroke="#fff" stroke-width="2.6" stroke-linejoin="round" stroke-opacity="0.9">I1</text>
<text x="1234.8" y="428.9" text-anchor="middle" font-size="18.3" fill="#fff" stroke="#fff" stroke-width="6" stroke-linejoin="round" filter="url(#gl)">P2</text>
<text x="1234.8" y="428.9" text-anchor="middle" font-size="18.3" fill="#fff" stroke="#fff" stroke-width="2.6" stroke-linejoin="round" stroke-opacity="0.9">P2</text>
<text x="909.6" y="543.8" text-anchor="middle" font-size="18.3" fill="#fff" stroke="#fff" stroke-width="6" stroke-linejoin="round" filter="url(#gl)">P1</text>
<text x="909.6" y="543.8" text-anchor="middle" font-size="18.3" fill="#fff" stroke="#fff" stroke-width="2.6" stroke-linejoin="round" stroke-opacity="0.9">P1</text>
<line x1="684.40" y1="148.36" x2="684.40" y2="205.50" stroke="#141414" stroke-width="1.0"/>
<text x="690.2" y="192.2" text-anchor="middle" font-size="18.3" fill="#851a1e">P3</text>
<text x="366.3" y="295.1" text-anchor="middle" font-size="18.3" fill="#851a1e">P4</text>
<text x="794.0" y="373.8" text-anchor="middle" font-size="18.3" fill="#851a1e">I1</text>
<text x="1234.8" y="428.9" text-anchor="middle" font-size="18.3" fill="#851a1e">P2</text>
<text x="909.6" y="543.8" text-anchor="middle" font-size="18.3" fill="#851a1e">P1</text>
<text x="273.5" y="311.5" text-anchor="end" font-size="14" fill="#000" >3650</text>
<text x="273.5" y="366" text-anchor="end" font-size="14" fill="#000" >3675</text>
<text x="273.5" y="420" text-anchor="end" font-size="14" fill="#000" >3700</text>
<text x="440" y="532" text-anchor="middle" font-size="14" fill="#000" >500</text>
<text x="652.3" y="627" text-anchor="middle" font-size="14" fill="#000" >250</text>
<text x="873" y="722.5" text-anchor="middle" font-size="14" fill="#000" >0</text>
<text x="947.5" y="731" text-anchor="middle" font-size="14" fill="#000" >0</text>
<text x="1054.5" y="698.5" text-anchor="middle" font-size="14" fill="#000" >100</text>
<text x="1152.6" y="666.3" text-anchor="middle" font-size="14" fill="#000" >200</text>
<text x="1251.2" y="634.3" text-anchor="middle" font-size="14" fill="#000" >300</text>
<text font-size="14" fill="#000" text-anchor="middle" transform="translate(232,357) rotate(-90)" dy="4">z</text>
<text font-size="14" fill="#000" text-anchor="middle" transform="translate(581,623) rotate(24)" dy="4">y</text>
<text font-size="14" fill="#000" text-anchor="middle" transform="translate(1129,701) rotate(-18)" dy="4">x</text>
<!-- range slider -->
<line x1="51" y1="825.6" x2="1549" y2="825.6" stroke="#afc0e8" stroke-width="9" stroke-linecap="round"/>
<circle cx="51" cy="825.6" r="5" fill="#4c72d1"/><circle cx="1549" cy="825.6" r="5" fill="#4c72d1"/>
<!-- step slider -->
<line x1="277" y1="866.3" x2="1232" y2="866.3" stroke="#f0f0f0" stroke-width="9" stroke-linecap="round"/>
<circle cx="277" cy="866.3" r="5" fill="#4c72d1"/>
</svg>

<!-- playback buttons -->
<div class="pb" style="left:46px;top:849.3px;width:27px;height:34px;"></div>
<div class="pb" style="left:91.3px;top:851.5px;width:26.5px;height:30.5px;"></div>
<div class="pb" style="left:136px;top:849.3px;width:27.8px;height:34px;"></div>
<div class="pb" style="left:181.8px;top:851.5px;width:27px;height:30.5px;"></div>
<div class="pb" style="left:227px;top:849.3px;width:27px;height:34px;"></div>
<svg width="1600" height="900" viewBox="0 0 1600 900" style="pointer-events:none">
<g fill="#000" transform="translate(0,0.55)">
<path d="M59.3 863.7 L54.6 867.5 L59.3 871.3 Z M64.6 863.7 L59.9 867.5 L64.6 871.3 Z"/>
<path d="M109.8 861.6 L99.4 867.2 L109.8 872.8 Z"/>
<path d="M144.3 862.8 L149.3 867.4 L144.3 872 Z M150.4 862.8 h1.9 v9.2 h-1.9 Z M153.9 862.8 h1.9 v9.2 h-1.9 Z"/>
<path d="M190 861.6 L200.4 867.2 L190 872.8 Z"/>
<path d="M235.3 863.7 L240 867.5 L235.3 871.3 Z M240.6 863.7 L245.3 867.5 L240.6 871.3 Z"/>
</g></svg>
<div class="dd" style="left:1254px;top:850px;width:222px;height:32.5px;line-height:35.4px;">Saturations<i></i></div>
<div class="dd" style="left:1494px;top:850px;width:60px;height:32.5px;line-height:35.4px;">1<i></i></div>
</div></body></html>
